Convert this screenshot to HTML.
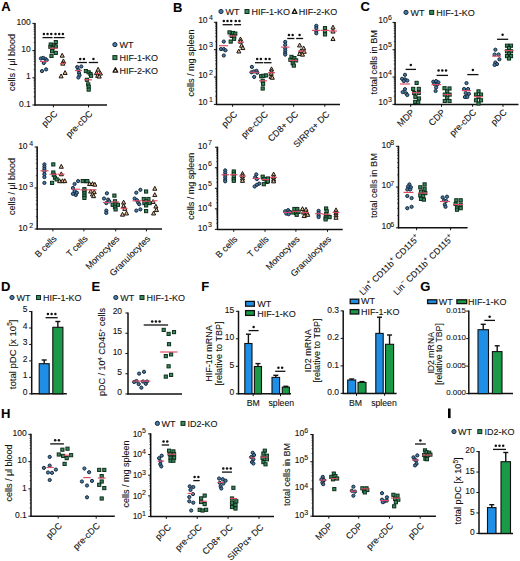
<!DOCTYPE html>
<html><head><meta charset="utf-8"><style>
html,body{margin:0;padding:0;background:#fff;}
body{width:520px;height:561px;overflow:hidden;}
svg{display:block;}
text{font-family:"Liberation Sans", sans-serif; stroke:#1a1a1a; stroke-width:0.1px; paint-order:stroke;}
</style></head><body>
<svg width="520" height="561" viewBox="0 0 520 561" font-family='"Liberation Sans", sans-serif'><text x="1.3" y="11.3" font-size="13" text-anchor="start" font-weight="bold" fill="#000">A</text>
<line x1="35" y1="22.9" x2="35" y2="105.6" stroke="#111111" stroke-width="1.5"/>
<line x1="34.4" y1="105" x2="107" y2="105" stroke="#111111" stroke-width="1.5"/>
<line x1="32.4" y1="105" x2="35" y2="105" stroke="#111111" stroke-width="1"/>
<line x1="33.6" y1="96.81" x2="35" y2="96.81" stroke="#111111" stroke-width="0.6"/>
<line x1="33.6" y1="92.02" x2="35" y2="92.02" stroke="#111111" stroke-width="0.6"/>
<line x1="33.6" y1="88.62" x2="35" y2="88.62" stroke="#111111" stroke-width="0.6"/>
<line x1="33.6" y1="85.99" x2="35" y2="85.99" stroke="#111111" stroke-width="0.6"/>
<line x1="33.6" y1="83.83" x2="35" y2="83.83" stroke="#111111" stroke-width="0.6"/>
<line x1="33.6" y1="82.01" x2="35" y2="82.01" stroke="#111111" stroke-width="0.6"/>
<line x1="33.6" y1="80.44" x2="35" y2="80.44" stroke="#111111" stroke-width="0.6"/>
<line x1="33.6" y1="79.04" x2="35" y2="79.04" stroke="#111111" stroke-width="0.6"/>
<line x1="32.4" y1="77.8" x2="35" y2="77.8" stroke="#111111" stroke-width="1"/>
<line x1="33.6" y1="69.61" x2="35" y2="69.61" stroke="#111111" stroke-width="0.6"/>
<line x1="33.6" y1="64.82" x2="35" y2="64.82" stroke="#111111" stroke-width="0.6"/>
<line x1="33.6" y1="61.42" x2="35" y2="61.42" stroke="#111111" stroke-width="0.6"/>
<line x1="33.6" y1="58.79" x2="35" y2="58.79" stroke="#111111" stroke-width="0.6"/>
<line x1="33.6" y1="56.63" x2="35" y2="56.63" stroke="#111111" stroke-width="0.6"/>
<line x1="33.6" y1="54.81" x2="35" y2="54.81" stroke="#111111" stroke-width="0.6"/>
<line x1="33.6" y1="53.24" x2="35" y2="53.24" stroke="#111111" stroke-width="0.6"/>
<line x1="33.6" y1="51.84" x2="35" y2="51.84" stroke="#111111" stroke-width="0.6"/>
<line x1="32.4" y1="50.6" x2="35" y2="50.6" stroke="#111111" stroke-width="1"/>
<line x1="33.6" y1="42.41" x2="35" y2="42.41" stroke="#111111" stroke-width="0.6"/>
<line x1="33.6" y1="37.62" x2="35" y2="37.62" stroke="#111111" stroke-width="0.6"/>
<line x1="33.6" y1="34.22" x2="35" y2="34.22" stroke="#111111" stroke-width="0.6"/>
<line x1="33.6" y1="31.59" x2="35" y2="31.59" stroke="#111111" stroke-width="0.6"/>
<line x1="33.6" y1="29.43" x2="35" y2="29.43" stroke="#111111" stroke-width="0.6"/>
<line x1="33.6" y1="27.61" x2="35" y2="27.61" stroke="#111111" stroke-width="0.6"/>
<line x1="33.6" y1="26.04" x2="35" y2="26.04" stroke="#111111" stroke-width="0.6"/>
<line x1="33.6" y1="24.64" x2="35" y2="24.64" stroke="#111111" stroke-width="0.6"/>
<line x1="32.4" y1="23.4" x2="35" y2="23.4" stroke="#111111" stroke-width="1"/>
<text x="30.8" y="106.6" font-size="8.5" text-anchor="end" font-weight="normal" fill="#111111">0.1</text>
<text x="30.8" y="79.4" font-size="8.5" text-anchor="end" font-weight="normal" fill="#111111">1</text>
<text x="30.8" y="52.2" font-size="8.5" text-anchor="end" font-weight="normal" fill="#111111">10</text>
<text x="30.8" y="25" font-size="8.5" text-anchor="end" font-weight="normal" fill="#111111">100</text>
<line x1="53.4" y1="105" x2="53.4" y2="107.4" stroke="#111111" stroke-width="1"/>
<line x1="88.5" y1="105" x2="88.5" y2="107.4" stroke="#111111" stroke-width="1"/>
<text x="58" y="114.4" font-size="9" text-anchor="end" font-weight="normal" fill="#111111" transform="rotate(-45 58 114.4)">pDC</text>
<text x="93.1" y="114.4" font-size="9" text-anchor="end" font-weight="normal" fill="#111111" transform="rotate(-45 93.1 114.4)">pre-cDC</text>
<text x="14.5" y="62.5" font-size="9" text-anchor="middle" font-weight="normal" fill="#111111" transform="rotate(-90 14.5 62.5)">cells / μl blood</text>
<circle cx="114.9" cy="44.6" r="2.1" fill="#4479a8" stroke="#15293a" stroke-width="1.0"/>
<text x="119.5" y="48.2" font-size="9" text-anchor="start" font-weight="normal" fill="#111111">WT</text>
<rect x="112.9" y="55.6" width="4" height="4" fill="#368c5a" stroke="#0f2c1c" stroke-width="1.0"/>
<text x="119.5" y="61.2" font-size="9" text-anchor="start" font-weight="normal" fill="#111111">HIF-1-KO</text>
<polygon points="115.4,67.78 113.1,72.15 117.7,72.15" fill="#f0e4d0" stroke="#1a1410" stroke-width="1.3" stroke-linejoin="round"/>
<text x="119.5" y="74.2" font-size="9" text-anchor="start" font-weight="normal" fill="#111111">HIF-2-KO</text>
<line x1="37.2" y1="146.5" x2="37.2" y2="229.6" stroke="#111111" stroke-width="1.5"/>
<line x1="36.6" y1="229" x2="162" y2="229" stroke="#111111" stroke-width="1.5"/>
<line x1="34.6" y1="229" x2="37.2" y2="229" stroke="#111111" stroke-width="1"/>
<line x1="35.8" y1="216.66" x2="37.2" y2="216.66" stroke="#111111" stroke-width="0.6"/>
<line x1="35.8" y1="209.44" x2="37.2" y2="209.44" stroke="#111111" stroke-width="0.6"/>
<line x1="35.8" y1="204.32" x2="37.2" y2="204.32" stroke="#111111" stroke-width="0.6"/>
<line x1="35.8" y1="200.34" x2="37.2" y2="200.34" stroke="#111111" stroke-width="0.6"/>
<line x1="35.8" y1="197.1" x2="37.2" y2="197.1" stroke="#111111" stroke-width="0.6"/>
<line x1="35.8" y1="194.35" x2="37.2" y2="194.35" stroke="#111111" stroke-width="0.6"/>
<line x1="35.8" y1="191.97" x2="37.2" y2="191.97" stroke="#111111" stroke-width="0.6"/>
<line x1="35.8" y1="189.88" x2="37.2" y2="189.88" stroke="#111111" stroke-width="0.6"/>
<line x1="34.6" y1="188" x2="37.2" y2="188" stroke="#111111" stroke-width="1"/>
<line x1="35.8" y1="175.66" x2="37.2" y2="175.66" stroke="#111111" stroke-width="0.6"/>
<line x1="35.8" y1="168.44" x2="37.2" y2="168.44" stroke="#111111" stroke-width="0.6"/>
<line x1="35.8" y1="163.32" x2="37.2" y2="163.32" stroke="#111111" stroke-width="0.6"/>
<line x1="35.8" y1="159.34" x2="37.2" y2="159.34" stroke="#111111" stroke-width="0.6"/>
<line x1="35.8" y1="156.1" x2="37.2" y2="156.1" stroke="#111111" stroke-width="0.6"/>
<line x1="35.8" y1="153.35" x2="37.2" y2="153.35" stroke="#111111" stroke-width="0.6"/>
<line x1="35.8" y1="150.97" x2="37.2" y2="150.97" stroke="#111111" stroke-width="0.6"/>
<line x1="35.8" y1="148.88" x2="37.2" y2="148.88" stroke="#111111" stroke-width="0.6"/>
<line x1="34.6" y1="147" x2="37.2" y2="147" stroke="#111111" stroke-width="1"/>
<text x="27.6" y="231" font-size="8.5" text-anchor="end" font-weight="normal" fill="#111111">10</text>
<text x="33.1" y="227.8" font-size="7" text-anchor="end" font-weight="normal" fill="#111111">2</text>
<text x="27.6" y="190" font-size="8.5" text-anchor="end" font-weight="normal" fill="#111111">10</text>
<text x="33.1" y="186.8" font-size="7" text-anchor="end" font-weight="normal" fill="#111111">3</text>
<text x="27.6" y="149" font-size="8.5" text-anchor="end" font-weight="normal" fill="#111111">10</text>
<text x="33.1" y="145.8" font-size="7" text-anchor="end" font-weight="normal" fill="#111111">4</text>
<line x1="52.9" y1="229" x2="52.9" y2="231.4" stroke="#111111" stroke-width="1"/>
<line x1="83.9" y1="229" x2="83.9" y2="231.4" stroke="#111111" stroke-width="1"/>
<line x1="115.7" y1="229" x2="115.7" y2="231.4" stroke="#111111" stroke-width="1"/>
<line x1="146.4" y1="229" x2="146.4" y2="231.4" stroke="#111111" stroke-width="1"/>
<text x="57.2" y="239.3" font-size="9" text-anchor="end" font-weight="normal" fill="#111111" transform="rotate(-45 57.2 239.3)">B cells</text>
<text x="88.2" y="239.3" font-size="9" text-anchor="end" font-weight="normal" fill="#111111" transform="rotate(-45 88.2 239.3)">T cells</text>
<text x="120" y="239.3" font-size="9" text-anchor="end" font-weight="normal" fill="#111111" transform="rotate(-45 120 239.3)">Monocytes</text>
<text x="150.7" y="239.3" font-size="9" text-anchor="end" font-weight="normal" fill="#111111" transform="rotate(-45 150.7 239.3)">Granulocytes</text>
<text x="15" y="186.5" font-size="9" text-anchor="middle" font-weight="normal" fill="#111111" transform="rotate(-90 15 186.5)">cells / μl blood</text>
<text x="173" y="11.5" font-size="13" text-anchor="start" font-weight="bold" fill="#000">B</text>
<line x1="216.5" y1="21.79" x2="216.5" y2="105" stroke="#111111" stroke-width="1.5"/>
<line x1="215.9" y1="104.4" x2="340" y2="104.4" stroke="#111111" stroke-width="1.5"/>
<line x1="213.9" y1="104.4" x2="216.5" y2="104.4" stroke="#111111" stroke-width="1"/>
<line x1="215.1" y1="96.16" x2="216.5" y2="96.16" stroke="#111111" stroke-width="0.6"/>
<line x1="215.1" y1="91.34" x2="216.5" y2="91.34" stroke="#111111" stroke-width="0.6"/>
<line x1="215.1" y1="87.92" x2="216.5" y2="87.92" stroke="#111111" stroke-width="0.6"/>
<line x1="215.1" y1="85.27" x2="216.5" y2="85.27" stroke="#111111" stroke-width="0.6"/>
<line x1="215.1" y1="83.1" x2="216.5" y2="83.1" stroke="#111111" stroke-width="0.6"/>
<line x1="215.1" y1="81.27" x2="216.5" y2="81.27" stroke="#111111" stroke-width="0.6"/>
<line x1="215.1" y1="79.68" x2="216.5" y2="79.68" stroke="#111111" stroke-width="0.6"/>
<line x1="215.1" y1="78.28" x2="216.5" y2="78.28" stroke="#111111" stroke-width="0.6"/>
<line x1="213.9" y1="77.03" x2="216.5" y2="77.03" stroke="#111111" stroke-width="1"/>
<line x1="215.1" y1="68.79" x2="216.5" y2="68.79" stroke="#111111" stroke-width="0.6"/>
<line x1="215.1" y1="63.97" x2="216.5" y2="63.97" stroke="#111111" stroke-width="0.6"/>
<line x1="215.1" y1="60.55" x2="216.5" y2="60.55" stroke="#111111" stroke-width="0.6"/>
<line x1="215.1" y1="57.9" x2="216.5" y2="57.9" stroke="#111111" stroke-width="0.6"/>
<line x1="215.1" y1="55.73" x2="216.5" y2="55.73" stroke="#111111" stroke-width="0.6"/>
<line x1="215.1" y1="53.9" x2="216.5" y2="53.9" stroke="#111111" stroke-width="0.6"/>
<line x1="215.1" y1="52.31" x2="216.5" y2="52.31" stroke="#111111" stroke-width="0.6"/>
<line x1="215.1" y1="50.91" x2="216.5" y2="50.91" stroke="#111111" stroke-width="0.6"/>
<line x1="213.9" y1="49.66" x2="216.5" y2="49.66" stroke="#111111" stroke-width="1"/>
<line x1="215.1" y1="41.42" x2="216.5" y2="41.42" stroke="#111111" stroke-width="0.6"/>
<line x1="215.1" y1="36.6" x2="216.5" y2="36.6" stroke="#111111" stroke-width="0.6"/>
<line x1="215.1" y1="33.18" x2="216.5" y2="33.18" stroke="#111111" stroke-width="0.6"/>
<line x1="215.1" y1="30.53" x2="216.5" y2="30.53" stroke="#111111" stroke-width="0.6"/>
<line x1="215.1" y1="28.36" x2="216.5" y2="28.36" stroke="#111111" stroke-width="0.6"/>
<line x1="215.1" y1="26.53" x2="216.5" y2="26.53" stroke="#111111" stroke-width="0.6"/>
<line x1="215.1" y1="24.94" x2="216.5" y2="24.94" stroke="#111111" stroke-width="0.6"/>
<line x1="215.1" y1="23.54" x2="216.5" y2="23.54" stroke="#111111" stroke-width="0.6"/>
<line x1="213.9" y1="22.29" x2="216.5" y2="22.29" stroke="#111111" stroke-width="1"/>
<text x="207.6" y="104.9" font-size="8.5" text-anchor="end" font-weight="normal" fill="#111111">10</text>
<text x="212.9" y="102.1" font-size="7" text-anchor="end" font-weight="normal" fill="#111111">1</text>
<text x="207.6" y="77.53" font-size="8.5" text-anchor="end" font-weight="normal" fill="#111111">10</text>
<text x="212.9" y="74.73" font-size="7" text-anchor="end" font-weight="normal" fill="#111111">2</text>
<text x="207.6" y="50.16" font-size="8.5" text-anchor="end" font-weight="normal" fill="#111111">10</text>
<text x="212.9" y="47.36" font-size="7" text-anchor="end" font-weight="normal" fill="#111111">3</text>
<text x="207.6" y="22.79" font-size="8.5" text-anchor="end" font-weight="normal" fill="#111111">10</text>
<text x="212.9" y="19.99" font-size="7" text-anchor="end" font-weight="normal" fill="#111111">4</text>
<line x1="232.6" y1="104.4" x2="232.6" y2="106.8" stroke="#111111" stroke-width="1"/>
<line x1="263.2" y1="104.4" x2="263.2" y2="106.8" stroke="#111111" stroke-width="1"/>
<line x1="293.6" y1="104.4" x2="293.6" y2="106.8" stroke="#111111" stroke-width="1"/>
<line x1="324.8" y1="104.4" x2="324.8" y2="106.8" stroke="#111111" stroke-width="1"/>
<text x="237.9" y="114.9" font-size="9" text-anchor="end" font-weight="normal" fill="#111111" transform="rotate(-45 237.9 114.9)">pDC</text>
<text x="268.5" y="114.9" font-size="9" text-anchor="end" font-weight="normal" fill="#111111" transform="rotate(-45 268.5 114.9)">pre-cDC</text>
<text x="298.9" y="114.9" font-size="9" text-anchor="end" font-weight="normal" fill="#111111" transform="rotate(-45 298.9 114.9)">CD8+ DC</text>
<text x="330.1" y="114.9" font-size="9" text-anchor="end" font-weight="normal" fill="#111111" transform="rotate(-45 330.1 114.9)">SIRPα+ DC</text>
<text x="194" y="63" font-size="9" text-anchor="middle" font-weight="normal" fill="#111111" transform="rotate(-90 194 63)">cells / mg spleen</text>
<circle cx="221" cy="11.5" r="2.1" fill="#4479a8" stroke="#15293a" stroke-width="1.0"/>
<text x="225.5" y="15" font-size="9" text-anchor="start" font-weight="normal" fill="#111111">WT</text>
<rect x="245" y="9.5" width="4" height="4" fill="#368c5a" stroke="#0f2c1c" stroke-width="1.0"/>
<text x="251.5" y="15" font-size="9" text-anchor="start" font-weight="normal" fill="#111111">HIF-1-KO</text>
<polygon points="294.6,8.98 292.3,13.35 296.9,13.35" fill="#f0e4d0" stroke="#1a1410" stroke-width="1.3" stroke-linejoin="round"/>
<text x="298.8" y="15" font-size="9" text-anchor="start" font-weight="normal" fill="#111111">HIF-2-KO</text>
<line x1="217.5" y1="146.7" x2="217.5" y2="230" stroke="#111111" stroke-width="1.5"/>
<line x1="216.9" y1="229.4" x2="342.7" y2="229.4" stroke="#111111" stroke-width="1.5"/>
<line x1="214.9" y1="229.4" x2="217.5" y2="229.4" stroke="#111111" stroke-width="1"/>
<line x1="216.1" y1="223.21" x2="217.5" y2="223.21" stroke="#111111" stroke-width="0.6"/>
<line x1="216.1" y1="219.6" x2="217.5" y2="219.6" stroke="#111111" stroke-width="0.6"/>
<line x1="216.1" y1="217.03" x2="217.5" y2="217.03" stroke="#111111" stroke-width="0.6"/>
<line x1="216.1" y1="215.04" x2="217.5" y2="215.04" stroke="#111111" stroke-width="0.6"/>
<line x1="216.1" y1="213.41" x2="217.5" y2="213.41" stroke="#111111" stroke-width="0.6"/>
<line x1="216.1" y1="212.03" x2="217.5" y2="212.03" stroke="#111111" stroke-width="0.6"/>
<line x1="216.1" y1="210.84" x2="217.5" y2="210.84" stroke="#111111" stroke-width="0.6"/>
<line x1="216.1" y1="209.79" x2="217.5" y2="209.79" stroke="#111111" stroke-width="0.6"/>
<line x1="214.9" y1="208.85" x2="217.5" y2="208.85" stroke="#111111" stroke-width="1"/>
<line x1="216.1" y1="202.66" x2="217.5" y2="202.66" stroke="#111111" stroke-width="0.6"/>
<line x1="216.1" y1="199.05" x2="217.5" y2="199.05" stroke="#111111" stroke-width="0.6"/>
<line x1="216.1" y1="196.48" x2="217.5" y2="196.48" stroke="#111111" stroke-width="0.6"/>
<line x1="216.1" y1="194.49" x2="217.5" y2="194.49" stroke="#111111" stroke-width="0.6"/>
<line x1="216.1" y1="192.86" x2="217.5" y2="192.86" stroke="#111111" stroke-width="0.6"/>
<line x1="216.1" y1="191.48" x2="217.5" y2="191.48" stroke="#111111" stroke-width="0.6"/>
<line x1="216.1" y1="190.29" x2="217.5" y2="190.29" stroke="#111111" stroke-width="0.6"/>
<line x1="216.1" y1="189.24" x2="217.5" y2="189.24" stroke="#111111" stroke-width="0.6"/>
<line x1="214.9" y1="188.3" x2="217.5" y2="188.3" stroke="#111111" stroke-width="1"/>
<line x1="216.1" y1="182.11" x2="217.5" y2="182.11" stroke="#111111" stroke-width="0.6"/>
<line x1="216.1" y1="178.5" x2="217.5" y2="178.5" stroke="#111111" stroke-width="0.6"/>
<line x1="216.1" y1="175.93" x2="217.5" y2="175.93" stroke="#111111" stroke-width="0.6"/>
<line x1="216.1" y1="173.94" x2="217.5" y2="173.94" stroke="#111111" stroke-width="0.6"/>
<line x1="216.1" y1="172.31" x2="217.5" y2="172.31" stroke="#111111" stroke-width="0.6"/>
<line x1="216.1" y1="170.93" x2="217.5" y2="170.93" stroke="#111111" stroke-width="0.6"/>
<line x1="216.1" y1="169.74" x2="217.5" y2="169.74" stroke="#111111" stroke-width="0.6"/>
<line x1="216.1" y1="168.69" x2="217.5" y2="168.69" stroke="#111111" stroke-width="0.6"/>
<line x1="214.9" y1="167.75" x2="217.5" y2="167.75" stroke="#111111" stroke-width="1"/>
<line x1="216.1" y1="161.56" x2="217.5" y2="161.56" stroke="#111111" stroke-width="0.6"/>
<line x1="216.1" y1="157.95" x2="217.5" y2="157.95" stroke="#111111" stroke-width="0.6"/>
<line x1="216.1" y1="155.38" x2="217.5" y2="155.38" stroke="#111111" stroke-width="0.6"/>
<line x1="216.1" y1="153.39" x2="217.5" y2="153.39" stroke="#111111" stroke-width="0.6"/>
<line x1="216.1" y1="151.76" x2="217.5" y2="151.76" stroke="#111111" stroke-width="0.6"/>
<line x1="216.1" y1="150.38" x2="217.5" y2="150.38" stroke="#111111" stroke-width="0.6"/>
<line x1="216.1" y1="149.19" x2="217.5" y2="149.19" stroke="#111111" stroke-width="0.6"/>
<line x1="216.1" y1="148.14" x2="217.5" y2="148.14" stroke="#111111" stroke-width="0.6"/>
<line x1="214.9" y1="147.2" x2="217.5" y2="147.2" stroke="#111111" stroke-width="1"/>
<text x="207.2" y="231.4" font-size="8.5" text-anchor="end" font-weight="normal" fill="#111111">10</text>
<text x="212" y="227.4" font-size="7" text-anchor="end" font-weight="normal" fill="#111111">3</text>
<text x="207.2" y="210.85" font-size="8.5" text-anchor="end" font-weight="normal" fill="#111111">10</text>
<text x="212" y="206.85" font-size="7" text-anchor="end" font-weight="normal" fill="#111111">4</text>
<text x="207.2" y="190.3" font-size="8.5" text-anchor="end" font-weight="normal" fill="#111111">10</text>
<text x="212" y="186.3" font-size="7" text-anchor="end" font-weight="normal" fill="#111111">5</text>
<text x="207.2" y="169.75" font-size="8.5" text-anchor="end" font-weight="normal" fill="#111111">10</text>
<text x="212" y="165.75" font-size="7" text-anchor="end" font-weight="normal" fill="#111111">6</text>
<text x="207.2" y="149.2" font-size="8.5" text-anchor="end" font-weight="normal" fill="#111111">10</text>
<text x="212" y="145.2" font-size="7" text-anchor="end" font-weight="normal" fill="#111111">7</text>
<line x1="233.75" y1="229.4" x2="233.75" y2="231.8" stroke="#111111" stroke-width="1"/>
<line x1="265" y1="229.4" x2="265" y2="231.8" stroke="#111111" stroke-width="1"/>
<line x1="295.9" y1="229.4" x2="295.9" y2="231.8" stroke="#111111" stroke-width="1"/>
<line x1="327.5" y1="229.4" x2="327.5" y2="231.8" stroke="#111111" stroke-width="1"/>
<text x="238.05" y="239.7" font-size="9" text-anchor="end" font-weight="normal" fill="#111111" transform="rotate(-45 238.05 239.7)">B cells</text>
<text x="269.3" y="239.7" font-size="9" text-anchor="end" font-weight="normal" fill="#111111" transform="rotate(-45 269.3 239.7)">T cells</text>
<text x="300.2" y="239.7" font-size="9" text-anchor="end" font-weight="normal" fill="#111111" transform="rotate(-45 300.2 239.7)">Monocytes</text>
<text x="331.8" y="239.7" font-size="9" text-anchor="end" font-weight="normal" fill="#111111" transform="rotate(-45 331.8 239.7)">Granulocytes</text>
<text x="194" y="186.2" font-size="9" text-anchor="middle" font-weight="normal" fill="#111111" transform="rotate(-90 194 186.2)">cells / mg spleen</text>
<text x="360.5" y="11.3" font-size="13" text-anchor="start" font-weight="bold" fill="#000">C</text>
<line x1="395.1" y1="21.91" x2="395.1" y2="105" stroke="#111111" stroke-width="1.5"/>
<line x1="394.5" y1="104.4" x2="518.5" y2="104.4" stroke="#111111" stroke-width="1.5"/>
<line x1="392.5" y1="104.4" x2="395.1" y2="104.4" stroke="#111111" stroke-width="1"/>
<line x1="393.7" y1="96.17" x2="395.1" y2="96.17" stroke="#111111" stroke-width="0.6"/>
<line x1="393.7" y1="91.36" x2="395.1" y2="91.36" stroke="#111111" stroke-width="0.6"/>
<line x1="393.7" y1="87.95" x2="395.1" y2="87.95" stroke="#111111" stroke-width="0.6"/>
<line x1="393.7" y1="85.3" x2="395.1" y2="85.3" stroke="#111111" stroke-width="0.6"/>
<line x1="393.7" y1="83.13" x2="395.1" y2="83.13" stroke="#111111" stroke-width="0.6"/>
<line x1="393.7" y1="81.3" x2="395.1" y2="81.3" stroke="#111111" stroke-width="0.6"/>
<line x1="393.7" y1="79.72" x2="395.1" y2="79.72" stroke="#111111" stroke-width="0.6"/>
<line x1="393.7" y1="78.32" x2="395.1" y2="78.32" stroke="#111111" stroke-width="0.6"/>
<line x1="392.5" y1="77.07" x2="395.1" y2="77.07" stroke="#111111" stroke-width="1"/>
<line x1="393.7" y1="68.84" x2="395.1" y2="68.84" stroke="#111111" stroke-width="0.6"/>
<line x1="393.7" y1="64.03" x2="395.1" y2="64.03" stroke="#111111" stroke-width="0.6"/>
<line x1="393.7" y1="60.62" x2="395.1" y2="60.62" stroke="#111111" stroke-width="0.6"/>
<line x1="393.7" y1="57.97" x2="395.1" y2="57.97" stroke="#111111" stroke-width="0.6"/>
<line x1="393.7" y1="55.8" x2="395.1" y2="55.8" stroke="#111111" stroke-width="0.6"/>
<line x1="393.7" y1="53.97" x2="395.1" y2="53.97" stroke="#111111" stroke-width="0.6"/>
<line x1="393.7" y1="52.39" x2="395.1" y2="52.39" stroke="#111111" stroke-width="0.6"/>
<line x1="393.7" y1="50.99" x2="395.1" y2="50.99" stroke="#111111" stroke-width="0.6"/>
<line x1="392.5" y1="49.74" x2="395.1" y2="49.74" stroke="#111111" stroke-width="1"/>
<line x1="393.7" y1="41.51" x2="395.1" y2="41.51" stroke="#111111" stroke-width="0.6"/>
<line x1="393.7" y1="36.7" x2="395.1" y2="36.7" stroke="#111111" stroke-width="0.6"/>
<line x1="393.7" y1="33.29" x2="395.1" y2="33.29" stroke="#111111" stroke-width="0.6"/>
<line x1="393.7" y1="30.64" x2="395.1" y2="30.64" stroke="#111111" stroke-width="0.6"/>
<line x1="393.7" y1="28.47" x2="395.1" y2="28.47" stroke="#111111" stroke-width="0.6"/>
<line x1="393.7" y1="26.64" x2="395.1" y2="26.64" stroke="#111111" stroke-width="0.6"/>
<line x1="393.7" y1="25.06" x2="395.1" y2="25.06" stroke="#111111" stroke-width="0.6"/>
<line x1="393.7" y1="23.66" x2="395.1" y2="23.66" stroke="#111111" stroke-width="0.6"/>
<line x1="392.5" y1="22.41" x2="395.1" y2="22.41" stroke="#111111" stroke-width="1"/>
<text x="387.7" y="105" font-size="8.5" text-anchor="end" font-weight="normal" fill="#111111">10</text>
<text x="391.9" y="102.05" font-size="7" text-anchor="end" font-weight="normal" fill="#111111">3</text>
<text x="387.7" y="77.67" font-size="8.5" text-anchor="end" font-weight="normal" fill="#111111">10</text>
<text x="391.9" y="74.72" font-size="7" text-anchor="end" font-weight="normal" fill="#111111">4</text>
<text x="387.7" y="50.34" font-size="8.5" text-anchor="end" font-weight="normal" fill="#111111">10</text>
<text x="391.9" y="47.39" font-size="7" text-anchor="end" font-weight="normal" fill="#111111">5</text>
<text x="387.7" y="23.01" font-size="8.5" text-anchor="end" font-weight="normal" fill="#111111">10</text>
<text x="391.9" y="20.06" font-size="7" text-anchor="end" font-weight="normal" fill="#111111">6</text>
<line x1="410.7" y1="104.4" x2="410.7" y2="106.8" stroke="#111111" stroke-width="1"/>
<line x1="441.5" y1="104.4" x2="441.5" y2="106.8" stroke="#111111" stroke-width="1"/>
<line x1="472.6" y1="104.4" x2="472.6" y2="106.8" stroke="#111111" stroke-width="1"/>
<line x1="503" y1="104.4" x2="503" y2="106.8" stroke="#111111" stroke-width="1"/>
<text x="415" y="113" font-size="9" text-anchor="end" font-weight="normal" fill="#111111" transform="rotate(-45 415 113)">MDP</text>
<text x="445.8" y="113" font-size="9" text-anchor="end" font-weight="normal" fill="#111111" transform="rotate(-45 445.8 113)">CDP</text>
<text x="476.9" y="113" font-size="9" text-anchor="end" font-weight="normal" fill="#111111" transform="rotate(-45 476.9 113)">pre-cDC</text>
<text x="507.3" y="113" font-size="9" text-anchor="end" font-weight="normal" fill="#111111" transform="rotate(-45 507.3 113)">pDC</text>
<text x="376.6" y="62.2" font-size="9.2" text-anchor="middle" font-weight="normal" fill="#111111" transform="rotate(-90 376.6 62.2)">total cells in BM</text>
<circle cx="406" cy="12.4" r="2.1" fill="#4479a8" stroke="#15293a" stroke-width="1.0"/>
<text x="410.5" y="16" font-size="9" text-anchor="start" font-weight="normal" fill="#111111">WT</text>
<rect x="429.7" y="10.4" width="4" height="4" fill="#368c5a" stroke="#0f2c1c" stroke-width="1.0"/>
<text x="436.2" y="16" font-size="9" text-anchor="start" font-weight="normal" fill="#111111">HIF-1-KO</text>
<line x1="398.5" y1="145.8" x2="398.5" y2="228.4" stroke="#111111" stroke-width="1.5"/>
<line x1="397.9" y1="227.8" x2="467.6" y2="227.8" stroke="#111111" stroke-width="1.5"/>
<line x1="395.9" y1="227.8" x2="398.5" y2="227.8" stroke="#111111" stroke-width="1"/>
<line x1="397.1" y1="215.53" x2="398.5" y2="215.53" stroke="#111111" stroke-width="0.6"/>
<line x1="397.1" y1="208.36" x2="398.5" y2="208.36" stroke="#111111" stroke-width="0.6"/>
<line x1="397.1" y1="203.27" x2="398.5" y2="203.27" stroke="#111111" stroke-width="0.6"/>
<line x1="397.1" y1="199.32" x2="398.5" y2="199.32" stroke="#111111" stroke-width="0.6"/>
<line x1="397.1" y1="196.09" x2="398.5" y2="196.09" stroke="#111111" stroke-width="0.6"/>
<line x1="397.1" y1="193.36" x2="398.5" y2="193.36" stroke="#111111" stroke-width="0.6"/>
<line x1="397.1" y1="191" x2="398.5" y2="191" stroke="#111111" stroke-width="0.6"/>
<line x1="397.1" y1="188.91" x2="398.5" y2="188.91" stroke="#111111" stroke-width="0.6"/>
<line x1="395.9" y1="187.05" x2="398.5" y2="187.05" stroke="#111111" stroke-width="1"/>
<line x1="397.1" y1="174.78" x2="398.5" y2="174.78" stroke="#111111" stroke-width="0.6"/>
<line x1="397.1" y1="167.61" x2="398.5" y2="167.61" stroke="#111111" stroke-width="0.6"/>
<line x1="397.1" y1="162.52" x2="398.5" y2="162.52" stroke="#111111" stroke-width="0.6"/>
<line x1="397.1" y1="158.57" x2="398.5" y2="158.57" stroke="#111111" stroke-width="0.6"/>
<line x1="397.1" y1="155.34" x2="398.5" y2="155.34" stroke="#111111" stroke-width="0.6"/>
<line x1="397.1" y1="152.61" x2="398.5" y2="152.61" stroke="#111111" stroke-width="0.6"/>
<line x1="397.1" y1="150.25" x2="398.5" y2="150.25" stroke="#111111" stroke-width="0.6"/>
<line x1="397.1" y1="148.16" x2="398.5" y2="148.16" stroke="#111111" stroke-width="0.6"/>
<line x1="395.9" y1="146.3" x2="398.5" y2="146.3" stroke="#111111" stroke-width="1"/>
<text x="391" y="229.2" font-size="8.5" text-anchor="end" font-weight="normal" fill="#111111">10</text>
<text x="394.2" y="226.7" font-size="7" text-anchor="end" font-weight="normal" fill="#111111">6</text>
<text x="391" y="188.45" font-size="8.5" text-anchor="end" font-weight="normal" fill="#111111">10</text>
<text x="394.2" y="185.95" font-size="7" text-anchor="end" font-weight="normal" fill="#111111">7</text>
<text x="391" y="147.7" font-size="8.5" text-anchor="end" font-weight="normal" fill="#111111">10</text>
<text x="394.2" y="145.2" font-size="7" text-anchor="end" font-weight="normal" fill="#111111">8</text>
<line x1="416.6" y1="227.8" x2="416.6" y2="230.2" stroke="#111111" stroke-width="1"/>
<line x1="450.6" y1="227.8" x2="450.6" y2="230.2" stroke="#111111" stroke-width="1"/>
<text x="420" y="238.6" font-size="8.8" text-anchor="end" fill="#111111" transform="rotate(-45 420 238.6)">Lin<tspan dy="-4" font-size="6">+</tspan><tspan dy="4"> CD11b</tspan><tspan dy="-4" font-size="6">+</tspan><tspan dy="4"> CD115</tspan><tspan dy="-4" font-size="6">+</tspan></text>
<text x="454" y="238.6" font-size="8.8" text-anchor="end" fill="#111111" transform="rotate(-45 454 238.6)">Lin<tspan dy="-4" font-size="6">−</tspan><tspan dy="4"> CD11b</tspan><tspan dy="-4" font-size="6">+</tspan><tspan dy="4"> CD115</tspan><tspan dy="-4" font-size="6">+</tspan></text>
<text x="376.8" y="185.5" font-size="9.3" text-anchor="middle" font-weight="normal" fill="#111111" transform="rotate(-90 376.8 185.5)">total cells in BM</text>
<text x="0.95" y="291.3" font-size="13" text-anchor="start" font-weight="bold" fill="#000">D</text>
<circle cx="12" cy="297.5" r="2.1" fill="#4479a8" stroke="#15293a" stroke-width="1.0"/>
<text x="16.5" y="301" font-size="9" text-anchor="start" font-weight="normal" fill="#111111">WT</text>
<rect x="36.5" y="295.5" width="4" height="4" fill="#368c5a" stroke="#0f2c1c" stroke-width="1.0"/>
<text x="43" y="301" font-size="9" text-anchor="start" font-weight="normal" fill="#111111">HIF-1-KO</text>
<line x1="31.7" y1="311.05" x2="31.7" y2="394.4" stroke="#111111" stroke-width="1.5"/>
<line x1="31.1" y1="393.8" x2="66.8" y2="393.8" stroke="#111111" stroke-width="1.5"/>
<line x1="29.1" y1="393.8" x2="31.7" y2="393.8" stroke="#111111" stroke-width="1"/>
<line x1="29.1" y1="377.35" x2="31.7" y2="377.35" stroke="#111111" stroke-width="1"/>
<line x1="29.1" y1="360.9" x2="31.7" y2="360.9" stroke="#111111" stroke-width="1"/>
<line x1="29.1" y1="344.45" x2="31.7" y2="344.45" stroke="#111111" stroke-width="1"/>
<line x1="29.1" y1="328" x2="31.7" y2="328" stroke="#111111" stroke-width="1"/>
<line x1="29.1" y1="311.55" x2="31.7" y2="311.55" stroke="#111111" stroke-width="1"/>
<text x="27.5" y="394.6" font-size="8.5" text-anchor="end" font-weight="normal" fill="#111111">0</text>
<text x="27.5" y="378.15" font-size="8.5" text-anchor="end" font-weight="normal" fill="#111111">1</text>
<text x="27.5" y="361.7" font-size="8.5" text-anchor="end" font-weight="normal" fill="#111111">2</text>
<text x="27.5" y="345.25" font-size="8.5" text-anchor="end" font-weight="normal" fill="#111111">3</text>
<text x="27.5" y="328.8" font-size="8.5" text-anchor="end" font-weight="normal" fill="#111111">4</text>
<text x="27.5" y="312.35" font-size="8.5" text-anchor="end" font-weight="normal" fill="#111111">5</text>
<text x="15.7" y="354.4" font-size="9.6" text-anchor="middle" font-weight="normal" fill="#111111" transform="rotate(-90 15.7 354.4)">total pDC [x 10<tspan dy="-3.6" font-size="6.5">5</tspan><tspan dy="3.6">]</tspan></text>
<text x="91.5" y="291.2" font-size="13" text-anchor="start" font-weight="bold" fill="#000">E</text>
<circle cx="115.8" cy="297.5" r="2.1" fill="#4479a8" stroke="#15293a" stroke-width="1.0"/>
<text x="120.3" y="301" font-size="9" text-anchor="start" font-weight="normal" fill="#111111">WT</text>
<rect x="140" y="295.5" width="4" height="4" fill="#368c5a" stroke="#0f2c1c" stroke-width="1.0"/>
<text x="146.5" y="301" font-size="9" text-anchor="start" font-weight="normal" fill="#111111">HIF-1-KO</text>
<line x1="128" y1="312.5" x2="128" y2="394.6" stroke="#111111" stroke-width="1.5"/>
<line x1="127.4" y1="394" x2="182" y2="394" stroke="#111111" stroke-width="1.5"/>
<line x1="125.4" y1="394" x2="128" y2="394" stroke="#111111" stroke-width="1"/>
<line x1="125.4" y1="373.75" x2="128" y2="373.75" stroke="#111111" stroke-width="1"/>
<line x1="125.4" y1="353.5" x2="128" y2="353.5" stroke="#111111" stroke-width="1"/>
<line x1="125.4" y1="333.25" x2="128" y2="333.25" stroke="#111111" stroke-width="1"/>
<line x1="125.4" y1="313" x2="128" y2="313" stroke="#111111" stroke-width="1"/>
<text x="122.1" y="395.2" font-size="8.5" text-anchor="end" font-weight="normal" fill="#111111">0</text>
<text x="122.1" y="374.95" font-size="8.5" text-anchor="end" font-weight="normal" fill="#111111">5</text>
<text x="122.1" y="354.7" font-size="8.5" text-anchor="end" font-weight="normal" fill="#111111">10</text>
<text x="122.1" y="334.45" font-size="8.5" text-anchor="end" font-weight="normal" fill="#111111">15</text>
<text x="122.1" y="314.2" font-size="8.5" text-anchor="end" font-weight="normal" fill="#111111">20</text>
<text x="105" y="352" font-size="9" text-anchor="middle" font-weight="normal" fill="#111111" transform="rotate(-90 105 352)">pDC / 10<tspan dy="-3" font-size="5.5">4</tspan><tspan dy="3"> CD45</tspan><tspan dy="-3" font-size="5.5">+</tspan><tspan dy="3"> cells</tspan></text>
<text x="201.3" y="291.3" font-size="13" text-anchor="start" font-weight="bold" fill="#000">F</text>
<line x1="238.5" y1="310.8" x2="238.5" y2="394.4" stroke="#111111" stroke-width="1.5"/>
<line x1="237.9" y1="393.8" x2="291" y2="393.8" stroke="#111111" stroke-width="1.5"/>
<line x1="235.9" y1="393.8" x2="238.5" y2="393.8" stroke="#111111" stroke-width="1"/>
<line x1="235.9" y1="366.3" x2="238.5" y2="366.3" stroke="#111111" stroke-width="1"/>
<line x1="235.9" y1="338.8" x2="238.5" y2="338.8" stroke="#111111" stroke-width="1"/>
<line x1="235.9" y1="311.3" x2="238.5" y2="311.3" stroke="#111111" stroke-width="1"/>
<text x="234.3" y="395.4" font-size="8.5" text-anchor="end" font-weight="normal" fill="#111111">0</text>
<text x="234.3" y="367.9" font-size="8.5" text-anchor="end" font-weight="normal" fill="#111111">5</text>
<text x="234.3" y="340.4" font-size="8.5" text-anchor="end" font-weight="normal" fill="#111111">10</text>
<text x="234.3" y="312.9" font-size="8.5" text-anchor="end" font-weight="normal" fill="#111111">15</text>
<rect x="245.6" y="301.4" width="8.8" height="4.8" fill="#1e8ee6" stroke="#111111" stroke-width="1.3"/>
<text x="257.3" y="306.8" font-size="9" text-anchor="start" font-weight="normal" fill="#111111">WT</text>
<rect x="245.6" y="310.6" width="8.8" height="4.8" fill="#1a9a48" stroke="#111111" stroke-width="1.3"/>
<text x="257.3" y="316.6" font-size="9" text-anchor="start" font-weight="normal" fill="#111111">HIF-1-KO</text>
<text x="212.3" y="353.5" font-size="9" text-anchor="middle" font-weight="normal" fill="#111111" transform="rotate(-90 212.3 353.5)">HIF-1α mRNA</text>
<text x="221.5" y="353.5" font-size="9" text-anchor="middle" font-weight="normal" fill="#111111" transform="rotate(-90 221.5 353.5)">[relative to TBP]</text>
<line x1="253.2" y1="393.8" x2="253.2" y2="396.2" stroke="#111111" stroke-width="1"/>
<line x1="280.5" y1="393.8" x2="280.5" y2="396.2" stroke="#111111" stroke-width="1"/>
<text x="253.2" y="405.5" font-size="8.7" text-anchor="middle" font-weight="normal" fill="#111111">BM</text>
<text x="281.3" y="405.5" font-size="8.7" text-anchor="middle" font-weight="normal" fill="#111111">spleen</text>
<line x1="343.2" y1="310.4" x2="343.2" y2="394" stroke="#111111" stroke-width="1.5"/>
<line x1="342.6" y1="393.4" x2="396.6" y2="393.4" stroke="#111111" stroke-width="1.5"/>
<line x1="340.6" y1="393.4" x2="343.2" y2="393.4" stroke="#111111" stroke-width="1"/>
<line x1="340.6" y1="365.9" x2="343.2" y2="365.9" stroke="#111111" stroke-width="1"/>
<line x1="340.6" y1="338.4" x2="343.2" y2="338.4" stroke="#111111" stroke-width="1"/>
<line x1="340.6" y1="310.9" x2="343.2" y2="310.9" stroke="#111111" stroke-width="1"/>
<text x="339" y="395" font-size="8.5" text-anchor="end" font-weight="normal" fill="#111111">0.0</text>
<text x="339" y="367.5" font-size="8.5" text-anchor="end" font-weight="normal" fill="#111111">0.1</text>
<text x="339" y="340" font-size="8.5" text-anchor="end" font-weight="normal" fill="#111111">0.2</text>
<text x="339" y="312.5" font-size="8.5" text-anchor="end" font-weight="normal" fill="#111111">0.3</text>
<rect x="350.2" y="299.2" width="8.6" height="4.4" fill="#1e8ee6" stroke="#111111" stroke-width="1.3"/>
<text x="361" y="304.4" font-size="9" text-anchor="start" font-weight="normal" fill="#111111">WT</text>
<rect x="350.2" y="309.6" width="8.6" height="4.4" fill="#1a9a48" stroke="#111111" stroke-width="1.3"/>
<text x="361" y="314.8" font-size="9" text-anchor="start" font-weight="normal" fill="#111111">HIF-1-KO</text>
<text x="310.9" y="350.8" font-size="9" text-anchor="middle" font-weight="normal" fill="#111111" transform="rotate(-90 310.9 350.8)">ID2 mRNA</text>
<text x="320.3" y="350.5" font-size="9" text-anchor="middle" font-weight="normal" fill="#111111" transform="rotate(-90 320.3 350.5)">[relative to TBP]</text>
<line x1="356.5" y1="393.4" x2="356.5" y2="395.8" stroke="#111111" stroke-width="1"/>
<line x1="384.6" y1="393.4" x2="384.6" y2="395.8" stroke="#111111" stroke-width="1"/>
<text x="355.5" y="405.5" font-size="8.7" text-anchor="middle" font-weight="normal" fill="#111111">BM</text>
<text x="384" y="405.5" font-size="8.7" text-anchor="middle" font-weight="normal" fill="#111111">spleen</text>
<text x="420.2" y="290.9" font-size="13" text-anchor="start" font-weight="bold" fill="#000">G</text>
<rect x="427.6" y="299.8" width="9.2" height="3.8" fill="#1e8ee6" stroke="#111111" stroke-width="1.3"/>
<text x="438.8" y="304.6" font-size="9" text-anchor="start" font-weight="normal" fill="#111111">WT</text>
<rect x="456.9" y="299.8" width="9.8" height="3.8" fill="#1a9a48" stroke="#111111" stroke-width="1.3"/>
<text x="468" y="304.6" font-size="9" text-anchor="start" font-weight="normal" fill="#111111">HIF-1-KO</text>
<line x1="468.8" y1="310.6" x2="468.8" y2="394.2" stroke="#111111" stroke-width="1.5"/>
<line x1="468.2" y1="393.6" x2="513" y2="393.6" stroke="#111111" stroke-width="1.5"/>
<line x1="466.2" y1="393.6" x2="468.8" y2="393.6" stroke="#111111" stroke-width="1"/>
<line x1="466.2" y1="366.1" x2="468.8" y2="366.1" stroke="#111111" stroke-width="1"/>
<line x1="466.2" y1="338.6" x2="468.8" y2="338.6" stroke="#111111" stroke-width="1"/>
<line x1="466.2" y1="311.1" x2="468.8" y2="311.1" stroke="#111111" stroke-width="1"/>
<text x="466" y="395.2" font-size="7.9" text-anchor="end" font-weight="normal" fill="#111111">0.000</text>
<text x="466" y="367.7" font-size="7.9" text-anchor="end" font-weight="normal" fill="#111111">0.005</text>
<text x="466" y="340.2" font-size="7.9" text-anchor="end" font-weight="normal" fill="#111111">0.010</text>
<text x="466" y="312.7" font-size="7.9" text-anchor="end" font-weight="normal" fill="#111111">0.015</text>
<text x="434.2" y="352.8" font-size="8.7" text-anchor="middle" font-weight="normal" fill="#111111" transform="rotate(-90 434.2 352.8)">ID2 mRNA</text>
<text x="441.9" y="354" font-size="8.7" text-anchor="middle" font-weight="normal" fill="#111111" transform="rotate(-90 441.9 354)">[relative to TBP]</text>
<text x="0.95" y="418.3" font-size="13" text-anchor="start" font-weight="bold" fill="#000">H</text>
<line x1="31" y1="433.8" x2="31" y2="516.8" stroke="#111111" stroke-width="1.5"/>
<line x1="30.4" y1="516.2" x2="114.8" y2="516.2" stroke="#111111" stroke-width="1.5"/>
<line x1="28.4" y1="516.2" x2="31" y2="516.2" stroke="#111111" stroke-width="1"/>
<line x1="29.6" y1="507.98" x2="31" y2="507.98" stroke="#111111" stroke-width="0.6"/>
<line x1="29.6" y1="503.17" x2="31" y2="503.17" stroke="#111111" stroke-width="0.6"/>
<line x1="29.6" y1="499.76" x2="31" y2="499.76" stroke="#111111" stroke-width="0.6"/>
<line x1="29.6" y1="497.12" x2="31" y2="497.12" stroke="#111111" stroke-width="0.6"/>
<line x1="29.6" y1="494.96" x2="31" y2="494.96" stroke="#111111" stroke-width="0.6"/>
<line x1="29.6" y1="493.13" x2="31" y2="493.13" stroke="#111111" stroke-width="0.6"/>
<line x1="29.6" y1="491.55" x2="31" y2="491.55" stroke="#111111" stroke-width="0.6"/>
<line x1="29.6" y1="490.15" x2="31" y2="490.15" stroke="#111111" stroke-width="0.6"/>
<line x1="28.4" y1="488.9" x2="31" y2="488.9" stroke="#111111" stroke-width="1"/>
<line x1="29.6" y1="480.68" x2="31" y2="480.68" stroke="#111111" stroke-width="0.6"/>
<line x1="29.6" y1="475.87" x2="31" y2="475.87" stroke="#111111" stroke-width="0.6"/>
<line x1="29.6" y1="472.46" x2="31" y2="472.46" stroke="#111111" stroke-width="0.6"/>
<line x1="29.6" y1="469.82" x2="31" y2="469.82" stroke="#111111" stroke-width="0.6"/>
<line x1="29.6" y1="467.66" x2="31" y2="467.66" stroke="#111111" stroke-width="0.6"/>
<line x1="29.6" y1="465.83" x2="31" y2="465.83" stroke="#111111" stroke-width="0.6"/>
<line x1="29.6" y1="464.25" x2="31" y2="464.25" stroke="#111111" stroke-width="0.6"/>
<line x1="29.6" y1="462.85" x2="31" y2="462.85" stroke="#111111" stroke-width="0.6"/>
<line x1="28.4" y1="461.6" x2="31" y2="461.6" stroke="#111111" stroke-width="1"/>
<line x1="29.6" y1="453.38" x2="31" y2="453.38" stroke="#111111" stroke-width="0.6"/>
<line x1="29.6" y1="448.57" x2="31" y2="448.57" stroke="#111111" stroke-width="0.6"/>
<line x1="29.6" y1="445.16" x2="31" y2="445.16" stroke="#111111" stroke-width="0.6"/>
<line x1="29.6" y1="442.52" x2="31" y2="442.52" stroke="#111111" stroke-width="0.6"/>
<line x1="29.6" y1="440.36" x2="31" y2="440.36" stroke="#111111" stroke-width="0.6"/>
<line x1="29.6" y1="438.53" x2="31" y2="438.53" stroke="#111111" stroke-width="0.6"/>
<line x1="29.6" y1="436.95" x2="31" y2="436.95" stroke="#111111" stroke-width="0.6"/>
<line x1="29.6" y1="435.55" x2="31" y2="435.55" stroke="#111111" stroke-width="0.6"/>
<line x1="28.4" y1="434.3" x2="31" y2="434.3" stroke="#111111" stroke-width="1"/>
<text x="26.8" y="517.8" font-size="8.5" text-anchor="end" font-weight="normal" fill="#111111">0.1</text>
<text x="26.8" y="490.5" font-size="8.5" text-anchor="end" font-weight="normal" fill="#111111">1</text>
<text x="26.8" y="463.2" font-size="8.5" text-anchor="end" font-weight="normal" fill="#111111">10</text>
<text x="26.8" y="435.9" font-size="8.5" text-anchor="end" font-weight="normal" fill="#111111">100</text>
<line x1="58.2" y1="516.2" x2="58.2" y2="518.6" stroke="#111111" stroke-width="1"/>
<line x1="96.2" y1="516.2" x2="96.2" y2="518.6" stroke="#111111" stroke-width="1"/>
<text x="62.5" y="526.5" font-size="9" text-anchor="end" font-weight="normal" fill="#111111" transform="rotate(-45 62.5 526.5)">pDC</text>
<text x="100.5" y="526.5" font-size="9" text-anchor="end" font-weight="normal" fill="#111111" transform="rotate(-45 100.5 526.5)">pre-cDC</text>
<text x="12.2" y="473" font-size="9" text-anchor="middle" font-weight="normal" fill="#111111" transform="rotate(-90 12.2 473)">cells / μl blood</text>
<line x1="150.7" y1="433.32" x2="150.7" y2="517.1" stroke="#111111" stroke-width="1.5"/>
<line x1="150.1" y1="516.5" x2="274" y2="516.5" stroke="#111111" stroke-width="1.5"/>
<line x1="148.1" y1="516.5" x2="150.7" y2="516.5" stroke="#111111" stroke-width="1"/>
<line x1="149.3" y1="510.28" x2="150.7" y2="510.28" stroke="#111111" stroke-width="0.6"/>
<line x1="149.3" y1="506.64" x2="150.7" y2="506.64" stroke="#111111" stroke-width="0.6"/>
<line x1="149.3" y1="504.06" x2="150.7" y2="504.06" stroke="#111111" stroke-width="0.6"/>
<line x1="149.3" y1="502.05" x2="150.7" y2="502.05" stroke="#111111" stroke-width="0.6"/>
<line x1="149.3" y1="500.42" x2="150.7" y2="500.42" stroke="#111111" stroke-width="0.6"/>
<line x1="149.3" y1="499.03" x2="150.7" y2="499.03" stroke="#111111" stroke-width="0.6"/>
<line x1="149.3" y1="497.83" x2="150.7" y2="497.83" stroke="#111111" stroke-width="0.6"/>
<line x1="149.3" y1="496.78" x2="150.7" y2="496.78" stroke="#111111" stroke-width="0.6"/>
<line x1="148.1" y1="495.83" x2="150.7" y2="495.83" stroke="#111111" stroke-width="1"/>
<line x1="149.3" y1="489.61" x2="150.7" y2="489.61" stroke="#111111" stroke-width="0.6"/>
<line x1="149.3" y1="485.97" x2="150.7" y2="485.97" stroke="#111111" stroke-width="0.6"/>
<line x1="149.3" y1="483.39" x2="150.7" y2="483.39" stroke="#111111" stroke-width="0.6"/>
<line x1="149.3" y1="481.38" x2="150.7" y2="481.38" stroke="#111111" stroke-width="0.6"/>
<line x1="149.3" y1="479.75" x2="150.7" y2="479.75" stroke="#111111" stroke-width="0.6"/>
<line x1="149.3" y1="478.36" x2="150.7" y2="478.36" stroke="#111111" stroke-width="0.6"/>
<line x1="149.3" y1="477.16" x2="150.7" y2="477.16" stroke="#111111" stroke-width="0.6"/>
<line x1="149.3" y1="476.11" x2="150.7" y2="476.11" stroke="#111111" stroke-width="0.6"/>
<line x1="148.1" y1="475.16" x2="150.7" y2="475.16" stroke="#111111" stroke-width="1"/>
<line x1="149.3" y1="468.94" x2="150.7" y2="468.94" stroke="#111111" stroke-width="0.6"/>
<line x1="149.3" y1="465.3" x2="150.7" y2="465.3" stroke="#111111" stroke-width="0.6"/>
<line x1="149.3" y1="462.72" x2="150.7" y2="462.72" stroke="#111111" stroke-width="0.6"/>
<line x1="149.3" y1="460.71" x2="150.7" y2="460.71" stroke="#111111" stroke-width="0.6"/>
<line x1="149.3" y1="459.08" x2="150.7" y2="459.08" stroke="#111111" stroke-width="0.6"/>
<line x1="149.3" y1="457.69" x2="150.7" y2="457.69" stroke="#111111" stroke-width="0.6"/>
<line x1="149.3" y1="456.49" x2="150.7" y2="456.49" stroke="#111111" stroke-width="0.6"/>
<line x1="149.3" y1="455.44" x2="150.7" y2="455.44" stroke="#111111" stroke-width="0.6"/>
<line x1="148.1" y1="454.49" x2="150.7" y2="454.49" stroke="#111111" stroke-width="1"/>
<line x1="149.3" y1="448.27" x2="150.7" y2="448.27" stroke="#111111" stroke-width="0.6"/>
<line x1="149.3" y1="444.63" x2="150.7" y2="444.63" stroke="#111111" stroke-width="0.6"/>
<line x1="149.3" y1="442.05" x2="150.7" y2="442.05" stroke="#111111" stroke-width="0.6"/>
<line x1="149.3" y1="440.04" x2="150.7" y2="440.04" stroke="#111111" stroke-width="0.6"/>
<line x1="149.3" y1="438.41" x2="150.7" y2="438.41" stroke="#111111" stroke-width="0.6"/>
<line x1="149.3" y1="437.02" x2="150.7" y2="437.02" stroke="#111111" stroke-width="0.6"/>
<line x1="149.3" y1="435.82" x2="150.7" y2="435.82" stroke="#111111" stroke-width="0.6"/>
<line x1="149.3" y1="434.77" x2="150.7" y2="434.77" stroke="#111111" stroke-width="0.6"/>
<line x1="148.1" y1="433.82" x2="150.7" y2="433.82" stroke="#111111" stroke-width="1"/>
<text x="142.1" y="519.2" font-size="8.5" text-anchor="end" font-weight="normal" fill="#111111">10</text>
<text x="145.9" y="516.1" font-size="7" text-anchor="end" font-weight="normal" fill="#111111">1</text>
<text x="142.1" y="498.53" font-size="8.5" text-anchor="end" font-weight="normal" fill="#111111">10</text>
<text x="145.9" y="495.43" font-size="7" text-anchor="end" font-weight="normal" fill="#111111">2</text>
<text x="142.1" y="477.86" font-size="8.5" text-anchor="end" font-weight="normal" fill="#111111">10</text>
<text x="145.9" y="474.76" font-size="7" text-anchor="end" font-weight="normal" fill="#111111">3</text>
<text x="142.1" y="457.19" font-size="8.5" text-anchor="end" font-weight="normal" fill="#111111">10</text>
<text x="145.9" y="454.09" font-size="7" text-anchor="end" font-weight="normal" fill="#111111">4</text>
<text x="142.1" y="436.52" font-size="8.5" text-anchor="end" font-weight="normal" fill="#111111">10</text>
<text x="145.9" y="433.42" font-size="7" text-anchor="end" font-weight="normal" fill="#111111">5</text>
<line x1="166.3" y1="516.5" x2="166.3" y2="518.9" stroke="#111111" stroke-width="1"/>
<line x1="197.2" y1="516.5" x2="197.2" y2="518.9" stroke="#111111" stroke-width="1"/>
<line x1="228.1" y1="516.5" x2="228.1" y2="518.9" stroke="#111111" stroke-width="1"/>
<line x1="259" y1="516.5" x2="259" y2="518.9" stroke="#111111" stroke-width="1"/>
<text x="171.5" y="527.8" font-size="9" text-anchor="end" font-weight="normal" fill="#111111" transform="rotate(-45 171.5 527.8)">pDC</text>
<text x="202.4" y="527.8" font-size="9" text-anchor="end" font-weight="normal" fill="#111111" transform="rotate(-45 202.4 527.8)">pre-cDC</text>
<text x="233.3" y="527.8" font-size="9" text-anchor="end" font-weight="normal" fill="#111111" transform="rotate(-45 233.3 527.8)">CD8+ DC</text>
<text x="264.2" y="527.8" font-size="9" text-anchor="end" font-weight="normal" fill="#111111" transform="rotate(-45 264.2 527.8)">SIRPα+ DC</text>
<text x="128.8" y="474" font-size="9" text-anchor="middle" font-weight="normal" fill="#111111" transform="rotate(-90 128.8 474)">cells / mg spleen</text>
<circle cx="157.4" cy="423.4" r="2.1" fill="#4479a8" stroke="#15293a" stroke-width="1.0"/>
<text x="161.6" y="426.9" font-size="9" text-anchor="start" font-weight="normal" fill="#111111">WT</text>
<rect x="181" y="421.4" width="4" height="4" fill="#368c5a" stroke="#0f2c1c" stroke-width="1.0"/>
<text x="187.6" y="426.9" font-size="9" text-anchor="start" font-weight="normal" fill="#111111">ID2-KO</text>
<line x1="312.9" y1="434.01" x2="312.9" y2="516.8" stroke="#111111" stroke-width="1.5"/>
<line x1="312.3" y1="516.2" x2="435.9" y2="516.2" stroke="#111111" stroke-width="1.5"/>
<line x1="310.3" y1="516.2" x2="312.9" y2="516.2" stroke="#111111" stroke-width="1"/>
<line x1="311.5" y1="508" x2="312.9" y2="508" stroke="#111111" stroke-width="0.6"/>
<line x1="311.5" y1="503.21" x2="312.9" y2="503.21" stroke="#111111" stroke-width="0.6"/>
<line x1="311.5" y1="499.81" x2="312.9" y2="499.81" stroke="#111111" stroke-width="0.6"/>
<line x1="311.5" y1="497.17" x2="312.9" y2="497.17" stroke="#111111" stroke-width="0.6"/>
<line x1="311.5" y1="495.01" x2="312.9" y2="495.01" stroke="#111111" stroke-width="0.6"/>
<line x1="311.5" y1="493.19" x2="312.9" y2="493.19" stroke="#111111" stroke-width="0.6"/>
<line x1="311.5" y1="491.61" x2="312.9" y2="491.61" stroke="#111111" stroke-width="0.6"/>
<line x1="311.5" y1="490.22" x2="312.9" y2="490.22" stroke="#111111" stroke-width="0.6"/>
<line x1="310.3" y1="488.97" x2="312.9" y2="488.97" stroke="#111111" stroke-width="1"/>
<line x1="311.5" y1="480.77" x2="312.9" y2="480.77" stroke="#111111" stroke-width="0.6"/>
<line x1="311.5" y1="475.98" x2="312.9" y2="475.98" stroke="#111111" stroke-width="0.6"/>
<line x1="311.5" y1="472.58" x2="312.9" y2="472.58" stroke="#111111" stroke-width="0.6"/>
<line x1="311.5" y1="469.94" x2="312.9" y2="469.94" stroke="#111111" stroke-width="0.6"/>
<line x1="311.5" y1="467.78" x2="312.9" y2="467.78" stroke="#111111" stroke-width="0.6"/>
<line x1="311.5" y1="465.96" x2="312.9" y2="465.96" stroke="#111111" stroke-width="0.6"/>
<line x1="311.5" y1="464.38" x2="312.9" y2="464.38" stroke="#111111" stroke-width="0.6"/>
<line x1="311.5" y1="462.99" x2="312.9" y2="462.99" stroke="#111111" stroke-width="0.6"/>
<line x1="310.3" y1="461.74" x2="312.9" y2="461.74" stroke="#111111" stroke-width="1"/>
<line x1="311.5" y1="453.54" x2="312.9" y2="453.54" stroke="#111111" stroke-width="0.6"/>
<line x1="311.5" y1="448.75" x2="312.9" y2="448.75" stroke="#111111" stroke-width="0.6"/>
<line x1="311.5" y1="445.35" x2="312.9" y2="445.35" stroke="#111111" stroke-width="0.6"/>
<line x1="311.5" y1="442.71" x2="312.9" y2="442.71" stroke="#111111" stroke-width="0.6"/>
<line x1="311.5" y1="440.55" x2="312.9" y2="440.55" stroke="#111111" stroke-width="0.6"/>
<line x1="311.5" y1="438.73" x2="312.9" y2="438.73" stroke="#111111" stroke-width="0.6"/>
<line x1="311.5" y1="437.15" x2="312.9" y2="437.15" stroke="#111111" stroke-width="0.6"/>
<line x1="311.5" y1="435.76" x2="312.9" y2="435.76" stroke="#111111" stroke-width="0.6"/>
<line x1="310.3" y1="434.51" x2="312.9" y2="434.51" stroke="#111111" stroke-width="1"/>
<text x="304.3" y="517.7" font-size="8.5" text-anchor="end" font-weight="normal" fill="#111111">10</text>
<text x="308.2" y="514.9" font-size="7" text-anchor="end" font-weight="normal" fill="#111111">3</text>
<text x="304.3" y="490.47" font-size="8.5" text-anchor="end" font-weight="normal" fill="#111111">10</text>
<text x="308.2" y="487.67" font-size="7" text-anchor="end" font-weight="normal" fill="#111111">4</text>
<text x="304.3" y="463.24" font-size="8.5" text-anchor="end" font-weight="normal" fill="#111111">10</text>
<text x="308.2" y="460.44" font-size="7" text-anchor="end" font-weight="normal" fill="#111111">5</text>
<text x="304.3" y="436.01" font-size="8.5" text-anchor="end" font-weight="normal" fill="#111111">10</text>
<text x="308.2" y="433.21" font-size="7" text-anchor="end" font-weight="normal" fill="#111111">6</text>
<line x1="328.8" y1="516.2" x2="328.8" y2="518.6" stroke="#111111" stroke-width="1"/>
<line x1="358.7" y1="516.2" x2="358.7" y2="518.6" stroke="#111111" stroke-width="1"/>
<line x1="389.5" y1="516.2" x2="389.5" y2="518.6" stroke="#111111" stroke-width="1"/>
<line x1="420.2" y1="516.2" x2="420.2" y2="518.6" stroke="#111111" stroke-width="1"/>
<text x="333.1" y="526.5" font-size="9" text-anchor="end" font-weight="normal" fill="#111111" transform="rotate(-45 333.1 526.5)">MDP</text>
<text x="363" y="526.5" font-size="9" text-anchor="end" font-weight="normal" fill="#111111" transform="rotate(-45 363 526.5)">CDP</text>
<text x="393.8" y="526.5" font-size="9" text-anchor="end" font-weight="normal" fill="#111111" transform="rotate(-45 393.8 526.5)">pre-cDC</text>
<text x="424.5" y="526.5" font-size="9" text-anchor="end" font-weight="normal" fill="#111111" transform="rotate(-45 424.5 526.5)">pDC</text>
<text x="289.5" y="474.5" font-size="9" text-anchor="middle" font-weight="normal" fill="#111111" transform="rotate(-90 289.5 474.5)">total cells in BM</text>
<rect x="448" y="408.5" width="2.6" height="9.6" fill="#000"/>
<circle cx="454" cy="431.6" r="2.1" fill="#4479a8" stroke="#15293a" stroke-width="1.0"/>
<text x="458" y="435.1" font-size="9" text-anchor="start" font-weight="normal" fill="#111111">WT</text>
<rect x="477.8" y="429.6" width="4" height="4" fill="#368c5a" stroke="#0f2c1c" stroke-width="1.0"/>
<text x="484.4" y="435.1" font-size="9" text-anchor="start" font-weight="normal" fill="#111111">ID2-KO</text>
<line x1="479" y1="451.1" x2="479" y2="534" stroke="#111111" stroke-width="1.5"/>
<line x1="478.4" y1="533.4" x2="513" y2="533.4" stroke="#111111" stroke-width="1.5"/>
<line x1="476.4" y1="533.4" x2="479" y2="533.4" stroke="#111111" stroke-width="1"/>
<line x1="476.4" y1="512.95" x2="479" y2="512.95" stroke="#111111" stroke-width="1"/>
<line x1="476.4" y1="492.5" x2="479" y2="492.5" stroke="#111111" stroke-width="1"/>
<line x1="476.4" y1="472.05" x2="479" y2="472.05" stroke="#111111" stroke-width="1"/>
<line x1="476.4" y1="451.6" x2="479" y2="451.6" stroke="#111111" stroke-width="1"/>
<text x="474.8" y="535" font-size="8.5" text-anchor="end" font-weight="normal" fill="#111111">0</text>
<text x="474.8" y="514.55" font-size="8.5" text-anchor="end" font-weight="normal" fill="#111111">5</text>
<text x="474.8" y="494.1" font-size="8.5" text-anchor="end" font-weight="normal" fill="#111111">10</text>
<text x="474.8" y="473.65" font-size="8.5" text-anchor="end" font-weight="normal" fill="#111111">15</text>
<text x="474.8" y="453.2" font-size="8.5" text-anchor="end" font-weight="normal" fill="#111111">20</text>
<text x="461.5" y="490.9" font-size="9.2" text-anchor="middle" font-weight="normal" fill="#111111" transform="rotate(-90 461.5 490.9)">total pDC [x 10<tspan dy="-3.6" font-size="6.5">5</tspan><tspan dy="3.6">]</tspan></text>
<line x1="42.5" y1="37.6" x2="52.6" y2="37.6" stroke="#111" stroke-width="1.3"/>
<circle cx="43.85" cy="34" r="1.25" fill="#111"/>
<circle cx="47.55" cy="34" r="1.25" fill="#111"/>
<circle cx="51.25" cy="34" r="1.25" fill="#111"/>
<line x1="53.8" y1="37.6" x2="64.6" y2="37.6" stroke="#111" stroke-width="1.3"/>
<circle cx="55.5" cy="34" r="1.25" fill="#111"/>
<circle cx="59.2" cy="34" r="1.25" fill="#111"/>
<circle cx="62.9" cy="34" r="1.25" fill="#111"/>
<circle cx="40.9" cy="58.5" r="1.6" fill="#4479a8" stroke="#15293a" stroke-width="1.0"/>
<circle cx="43.2" cy="57.9" r="1.6" fill="#4479a8" stroke="#15293a" stroke-width="1.0"/>
<circle cx="45.5" cy="59" r="1.6" fill="#4479a8" stroke="#15293a" stroke-width="1.0"/>
<circle cx="46.7" cy="60.2" r="1.6" fill="#4479a8" stroke="#15293a" stroke-width="1.0"/>
<circle cx="43.8" cy="63" r="1.6" fill="#4479a8" stroke="#15293a" stroke-width="1.0"/>
<circle cx="42" cy="71.1" r="1.6" fill="#4479a8" stroke="#15293a" stroke-width="1.0"/>
<circle cx="46.1" cy="69.4" r="1.6" fill="#4479a8" stroke="#15293a" stroke-width="1.0"/>
<rect x="54.22" y="40.52" width="3.15" height="3.15" fill="#368c5a" stroke="#0f2c1c" stroke-width="1.0"/>
<rect x="49.22" y="42.92" width="3.15" height="3.15" fill="#368c5a" stroke="#0f2c1c" stroke-width="1.0"/>
<rect x="52.62" y="43.62" width="3.15" height="3.15" fill="#368c5a" stroke="#0f2c1c" stroke-width="1.0"/>
<rect x="48.82" y="45.22" width="3.15" height="3.15" fill="#368c5a" stroke="#0f2c1c" stroke-width="1.0"/>
<rect x="54.22" y="44.92" width="3.15" height="3.15" fill="#368c5a" stroke="#0f2c1c" stroke-width="1.0"/>
<rect x="50.92" y="46.62" width="3.15" height="3.15" fill="#368c5a" stroke="#0f2c1c" stroke-width="1.0"/>
<rect x="50.52" y="49.62" width="3.15" height="3.15" fill="#368c5a" stroke="#0f2c1c" stroke-width="1.0"/>
<rect x="54.22" y="51.32" width="3.15" height="3.15" fill="#368c5a" stroke="#0f2c1c" stroke-width="1.0"/>
<rect x="49.92" y="54.32" width="3.15" height="3.15" fill="#368c5a" stroke="#0f2c1c" stroke-width="1.0"/>
<polygon points="62.2,53.26 60.15,57.16 64.25,57.16" fill="#e2bf94" stroke="#1a1410" stroke-width="1" stroke-linejoin="round"/>
<polygon points="63.4,58.96 61.35,62.86 65.45,62.86" fill="#e2bf94" stroke="#1a1410" stroke-width="1" stroke-linejoin="round"/>
<polygon points="62.8,61.26 60.75,65.16 64.85,65.16" fill="#e2bf94" stroke="#1a1410" stroke-width="1" stroke-linejoin="round"/>
<polygon points="65.1,70.56 63.05,74.46 67.15,74.46" fill="#e2bf94" stroke="#1a1410" stroke-width="1" stroke-linejoin="round"/>
<polygon points="61.1,73.96 59.05,77.86 63.15,77.86" fill="#e2bf94" stroke="#1a1410" stroke-width="1" stroke-linejoin="round"/>
<line x1="40" y1="61.5" x2="48" y2="61.5" stroke="#de4a62" stroke-width="1.15"/>
<line x1="49.5" y1="48.2" x2="57" y2="48.2" stroke="#de4a62" stroke-width="1.15"/>
<line x1="60" y1="63.6" x2="66" y2="63.6" stroke="#de4a62" stroke-width="1.15"/>
<line x1="77.3" y1="62.5" x2="86.9" y2="62.5" stroke="#111" stroke-width="1.3"/>
<circle cx="80.25" cy="58.9" r="1.25" fill="#111"/>
<circle cx="83.95" cy="58.9" r="1.25" fill="#111"/>
<line x1="88.8" y1="62.5" x2="98.1" y2="62.5" stroke="#111" stroke-width="1.3"/>
<circle cx="93.45" cy="58.9" r="1.25" fill="#111"/>
<circle cx="77.2" cy="67.1" r="1.6" fill="#4479a8" stroke="#15293a" stroke-width="1.0"/>
<circle cx="81.3" cy="66.5" r="1.6" fill="#4479a8" stroke="#15293a" stroke-width="1.0"/>
<circle cx="78.4" cy="70" r="1.6" fill="#4479a8" stroke="#15293a" stroke-width="1.0"/>
<circle cx="79" cy="72.9" r="1.6" fill="#4479a8" stroke="#15293a" stroke-width="1.0"/>
<circle cx="79.5" cy="75.2" r="1.6" fill="#4479a8" stroke="#15293a" stroke-width="1.0"/>
<circle cx="78.4" cy="77.5" r="1.6" fill="#4479a8" stroke="#15293a" stroke-width="1.0"/>
<rect x="84.33" y="69.52" width="3.15" height="3.15" fill="#368c5a" stroke="#0f2c1c" stroke-width="1.0"/>
<rect x="87.12" y="70.72" width="3.15" height="3.15" fill="#368c5a" stroke="#0f2c1c" stroke-width="1.0"/>
<rect x="88.92" y="72.42" width="3.15" height="3.15" fill="#368c5a" stroke="#0f2c1c" stroke-width="1.0"/>
<rect x="89.52" y="74.22" width="3.15" height="3.15" fill="#368c5a" stroke="#0f2c1c" stroke-width="1.0"/>
<rect x="85.42" y="78.22" width="3.15" height="3.15" fill="#368c5a" stroke="#0f2c1c" stroke-width="1.0"/>
<rect x="86.62" y="82.83" width="3.15" height="3.15" fill="#368c5a" stroke="#0f2c1c" stroke-width="1.0"/>
<rect x="87.12" y="85.12" width="3.15" height="3.15" fill="#368c5a" stroke="#0f2c1c" stroke-width="1.0"/>
<rect x="87.12" y="88.02" width="3.15" height="3.15" fill="#368c5a" stroke="#0f2c1c" stroke-width="1.0"/>
<polygon points="98.1,67.26 96.05,71.16 100.15,71.16" fill="#e2bf94" stroke="#1a1410" stroke-width="1" stroke-linejoin="round"/>
<polygon points="96.5,70.76 94.45,74.66 98.55,74.66" fill="#e2bf94" stroke="#1a1410" stroke-width="1" stroke-linejoin="round"/>
<polygon points="100.4,71.16 98.35,75.06 102.45,75.06" fill="#e2bf94" stroke="#1a1410" stroke-width="1" stroke-linejoin="round"/>
<polygon points="97.7,73.46 95.65,77.36 99.75,77.36" fill="#e2bf94" stroke="#1a1410" stroke-width="1" stroke-linejoin="round"/>
<polygon points="99.2,74.16 97.15,78.06 101.25,78.06" fill="#e2bf94" stroke="#1a1410" stroke-width="1" stroke-linejoin="round"/>
<line x1="75" y1="70.6" x2="82" y2="70.6" stroke="#de4a62" stroke-width="1.15"/>
<line x1="84" y1="79.8" x2="92" y2="79.8" stroke="#de4a62" stroke-width="1.15"/>
<line x1="96" y1="73.5" x2="101" y2="73.5" stroke="#de4a62" stroke-width="1.15"/>
<circle cx="44.4" cy="164.4" r="1.6" fill="#4479a8" stroke="#15293a" stroke-width="1.0"/>
<circle cx="44.4" cy="166.7" r="1.6" fill="#4479a8" stroke="#15293a" stroke-width="1.0"/>
<circle cx="44.4" cy="169" r="1.6" fill="#4479a8" stroke="#15293a" stroke-width="1.0"/>
<circle cx="44.4" cy="171.3" r="1.6" fill="#4479a8" stroke="#15293a" stroke-width="1.0"/>
<circle cx="44.4" cy="174.2" r="1.6" fill="#4479a8" stroke="#15293a" stroke-width="1.0"/>
<circle cx="44.4" cy="177.1" r="1.6" fill="#4479a8" stroke="#15293a" stroke-width="1.0"/>
<circle cx="44.4" cy="182.9" r="1.6" fill="#4479a8" stroke="#15293a" stroke-width="1.0"/>
<rect x="51.72" y="162.83" width="3.15" height="3.15" fill="#368c5a" stroke="#0f2c1c" stroke-width="1.0"/>
<rect x="51.72" y="170.93" width="3.15" height="3.15" fill="#368c5a" stroke="#0f2c1c" stroke-width="1.0"/>
<rect x="52.22" y="173.23" width="3.15" height="3.15" fill="#368c5a" stroke="#0f2c1c" stroke-width="1.0"/>
<rect x="53.42" y="176.12" width="3.15" height="3.15" fill="#368c5a" stroke="#0f2c1c" stroke-width="1.0"/>
<rect x="55.12" y="177.83" width="3.15" height="3.15" fill="#368c5a" stroke="#0f2c1c" stroke-width="1.0"/>
<rect x="50.52" y="181.33" width="3.15" height="3.15" fill="#368c5a" stroke="#0f2c1c" stroke-width="1.0"/>
<polygon points="61.3,164.36 59.25,168.26 63.35,168.26" fill="#e2bf94" stroke="#1a1410" stroke-width="1" stroke-linejoin="round"/>
<polygon points="61.3,171.86 59.25,175.76 63.35,175.76" fill="#e2bf94" stroke="#1a1410" stroke-width="1" stroke-linejoin="round"/>
<polygon points="59.6,178.76 57.55,182.66 61.65,182.66" fill="#e2bf94" stroke="#1a1410" stroke-width="1" stroke-linejoin="round"/>
<polygon points="62.5,178.76 60.45,182.66 64.55,182.66" fill="#e2bf94" stroke="#1a1410" stroke-width="1" stroke-linejoin="round"/>
<polygon points="64.8,178.76 62.75,182.66 66.85,182.66" fill="#e2bf94" stroke="#1a1410" stroke-width="1" stroke-linejoin="round"/>
<line x1="40.5" y1="170.8" x2="48.5" y2="170.8" stroke="#de4a62" stroke-width="1.15"/>
<line x1="49.5" y1="174.2" x2="57.5" y2="174.2" stroke="#de4a62" stroke-width="1.15"/>
<line x1="58" y1="174.2" x2="64.5" y2="174.2" stroke="#de4a62" stroke-width="1.15"/>
<circle cx="78.1" cy="181.1" r="1.6" fill="#4479a8" stroke="#15293a" stroke-width="1.0"/>
<circle cx="74.6" cy="184" r="1.6" fill="#4479a8" stroke="#15293a" stroke-width="1.0"/>
<circle cx="72.9" cy="188" r="1.6" fill="#4479a8" stroke="#15293a" stroke-width="1.0"/>
<circle cx="74.6" cy="191" r="1.6" fill="#4479a8" stroke="#15293a" stroke-width="1.0"/>
<circle cx="72.9" cy="193.8" r="1.6" fill="#4479a8" stroke="#15293a" stroke-width="1.0"/>
<circle cx="75.8" cy="195" r="1.6" fill="#4479a8" stroke="#15293a" stroke-width="1.0"/>
<circle cx="76.9" cy="192.7" r="1.6" fill="#4479a8" stroke="#15293a" stroke-width="1.0"/>
<rect x="81.12" y="179.53" width="3.15" height="3.15" fill="#368c5a" stroke="#0f2c1c" stroke-width="1.0"/>
<rect x="84.52" y="179.53" width="3.15" height="3.15" fill="#368c5a" stroke="#0f2c1c" stroke-width="1.0"/>
<rect x="85.72" y="179.53" width="3.15" height="3.15" fill="#368c5a" stroke="#0f2c1c" stroke-width="1.0"/>
<rect x="82.83" y="187.62" width="3.15" height="3.15" fill="#368c5a" stroke="#0f2c1c" stroke-width="1.0"/>
<rect x="82.83" y="189.43" width="3.15" height="3.15" fill="#368c5a" stroke="#0f2c1c" stroke-width="1.0"/>
<rect x="82.83" y="191.73" width="3.15" height="3.15" fill="#368c5a" stroke="#0f2c1c" stroke-width="1.0"/>
<rect x="82.83" y="194.03" width="3.15" height="3.15" fill="#368c5a" stroke="#0f2c1c" stroke-width="1.0"/>
<rect x="82.83" y="196.33" width="3.15" height="3.15" fill="#368c5a" stroke="#0f2c1c" stroke-width="1.0"/>
<polygon points="89.6,181.66 87.55,185.56 91.65,185.56" fill="#e2bf94" stroke="#1a1410" stroke-width="1" stroke-linejoin="round"/>
<polygon points="92.5,181.66 90.45,185.56 94.55,185.56" fill="#e2bf94" stroke="#1a1410" stroke-width="1" stroke-linejoin="round"/>
<polygon points="94.8,182.26 92.75,186.16 96.85,186.16" fill="#e2bf94" stroke="#1a1410" stroke-width="1" stroke-linejoin="round"/>
<polygon points="90.7,189.16 88.65,193.06 92.75,193.06" fill="#e2bf94" stroke="#1a1410" stroke-width="1" stroke-linejoin="round"/>
<polygon points="94.2,189.76 92.15,193.66 96.25,193.66" fill="#e2bf94" stroke="#1a1410" stroke-width="1" stroke-linejoin="round"/>
<polygon points="92.5,192.06 90.45,195.96 94.55,195.96" fill="#e2bf94" stroke="#1a1410" stroke-width="1" stroke-linejoin="round"/>
<polygon points="93.6,193.76 91.55,197.66 95.65,197.66" fill="#e2bf94" stroke="#1a1410" stroke-width="1" stroke-linejoin="round"/>
<line x1="71.5" y1="189.2" x2="80" y2="189.2" stroke="#de4a62" stroke-width="1.15"/>
<line x1="80.5" y1="189.8" x2="88.5" y2="189.8" stroke="#de4a62" stroke-width="1.15"/>
<line x1="88.5" y1="189.8" x2="96.5" y2="189.8" stroke="#de4a62" stroke-width="1.15"/>
<circle cx="106.9" cy="193.3" r="1.6" fill="#4479a8" stroke="#15293a" stroke-width="1.0"/>
<circle cx="104" cy="198.5" r="1.6" fill="#4479a8" stroke="#15293a" stroke-width="1.0"/>
<circle cx="108.1" cy="199.6" r="1.6" fill="#4479a8" stroke="#15293a" stroke-width="1.0"/>
<circle cx="109.2" cy="201.3" r="1.6" fill="#4479a8" stroke="#15293a" stroke-width="1.0"/>
<circle cx="106.3" cy="203.1" r="1.6" fill="#4479a8" stroke="#15293a" stroke-width="1.0"/>
<circle cx="106.3" cy="210.6" r="1.6" fill="#4479a8" stroke="#15293a" stroke-width="1.0"/>
<circle cx="106.3" cy="212.9" r="1.6" fill="#4479a8" stroke="#15293a" stroke-width="1.0"/>
<rect x="112.83" y="194.03" width="3.15" height="3.15" fill="#368c5a" stroke="#0f2c1c" stroke-width="1.0"/>
<rect x="113.42" y="199.73" width="3.15" height="3.15" fill="#368c5a" stroke="#0f2c1c" stroke-width="1.0"/>
<rect x="111.12" y="203.23" width="3.15" height="3.15" fill="#368c5a" stroke="#0f2c1c" stroke-width="1.0"/>
<rect x="114.02" y="202.62" width="3.15" height="3.15" fill="#368c5a" stroke="#0f2c1c" stroke-width="1.0"/>
<rect x="116.33" y="203.23" width="3.15" height="3.15" fill="#368c5a" stroke="#0f2c1c" stroke-width="1.0"/>
<rect x="113.42" y="205.53" width="3.15" height="3.15" fill="#368c5a" stroke="#0f2c1c" stroke-width="1.0"/>
<rect x="114.02" y="207.83" width="3.15" height="3.15" fill="#368c5a" stroke="#0f2c1c" stroke-width="1.0"/>
<polygon points="123.6,200.16 121.55,204.06 125.65,204.06" fill="#e2bf94" stroke="#1a1410" stroke-width="1" stroke-linejoin="round"/>
<polygon points="123.6,203.66 121.55,207.56 125.65,207.56" fill="#e2bf94" stroke="#1a1410" stroke-width="1" stroke-linejoin="round"/>
<polygon points="124.8,206.46 122.75,210.36 126.85,210.36" fill="#e2bf94" stroke="#1a1410" stroke-width="1" stroke-linejoin="round"/>
<polygon points="122.5,212.26 120.45,216.16 124.55,216.16" fill="#e2bf94" stroke="#1a1410" stroke-width="1" stroke-linejoin="round"/>
<polygon points="126.5,211.06 124.45,214.96 128.55,214.96" fill="#e2bf94" stroke="#1a1410" stroke-width="1" stroke-linejoin="round"/>
<line x1="103" y1="202.5" x2="110" y2="202.5" stroke="#de4a62" stroke-width="1.15"/>
<line x1="111" y1="201.9" x2="119" y2="201.9" stroke="#de4a62" stroke-width="1.15"/>
<line x1="120.5" y1="208.3" x2="127.5" y2="208.3" stroke="#de4a62" stroke-width="1.15"/>
<circle cx="136.3" cy="192.7" r="1.6" fill="#4479a8" stroke="#15293a" stroke-width="1.0"/>
<circle cx="140.4" cy="189.8" r="1.6" fill="#4479a8" stroke="#15293a" stroke-width="1.0"/>
<circle cx="134.6" cy="198.5" r="1.6" fill="#4479a8" stroke="#15293a" stroke-width="1.0"/>
<circle cx="136.9" cy="200.2" r="1.6" fill="#4479a8" stroke="#15293a" stroke-width="1.0"/>
<circle cx="138.1" cy="202.5" r="1.6" fill="#4479a8" stroke="#15293a" stroke-width="1.0"/>
<circle cx="139.2" cy="204.2" r="1.6" fill="#4479a8" stroke="#15293a" stroke-width="1.0"/>
<circle cx="136.3" cy="210.6" r="1.6" fill="#4479a8" stroke="#15293a" stroke-width="1.0"/>
<circle cx="140.4" cy="209.4" r="1.6" fill="#4479a8" stroke="#15293a" stroke-width="1.0"/>
<rect x="144.53" y="189.93" width="3.15" height="3.15" fill="#368c5a" stroke="#0f2c1c" stroke-width="1.0"/>
<rect x="142.23" y="197.43" width="3.15" height="3.15" fill="#368c5a" stroke="#0f2c1c" stroke-width="1.0"/>
<rect x="146.83" y="197.43" width="3.15" height="3.15" fill="#368c5a" stroke="#0f2c1c" stroke-width="1.0"/>
<rect x="144.53" y="199.73" width="3.15" height="3.15" fill="#368c5a" stroke="#0f2c1c" stroke-width="1.0"/>
<rect x="142.83" y="201.53" width="3.15" height="3.15" fill="#368c5a" stroke="#0f2c1c" stroke-width="1.0"/>
<rect x="148.03" y="201.53" width="3.15" height="3.15" fill="#368c5a" stroke="#0f2c1c" stroke-width="1.0"/>
<rect x="144.53" y="203.83" width="3.15" height="3.15" fill="#368c5a" stroke="#0f2c1c" stroke-width="1.0"/>
<rect x="144.53" y="209.53" width="3.15" height="3.15" fill="#368c5a" stroke="#0f2c1c" stroke-width="1.0"/>
<polygon points="154.8,186.36 152.75,190.26 156.85,190.26" fill="#e2bf94" stroke="#1a1410" stroke-width="1" stroke-linejoin="round"/>
<polygon points="154.8,192.66 152.75,196.56 156.85,196.56" fill="#e2bf94" stroke="#1a1410" stroke-width="1" stroke-linejoin="round"/>
<polygon points="153.1,199.56 151.05,203.46 155.15,203.46" fill="#e2bf94" stroke="#1a1410" stroke-width="1" stroke-linejoin="round"/>
<polygon points="155.9,204.16 153.85,208.06 157.95,208.06" fill="#e2bf94" stroke="#1a1410" stroke-width="1" stroke-linejoin="round"/>
<polygon points="156.5,207.66 154.45,211.56 158.55,211.56" fill="#e2bf94" stroke="#1a1410" stroke-width="1" stroke-linejoin="round"/>
<polygon points="153.6,211.06 151.55,214.96 155.65,214.96" fill="#e2bf94" stroke="#1a1410" stroke-width="1" stroke-linejoin="round"/>
<line x1="132.5" y1="200.8" x2="141.5" y2="200.8" stroke="#de4a62" stroke-width="1.15"/>
<line x1="142" y1="201.3" x2="150.5" y2="201.3" stroke="#de4a62" stroke-width="1.15"/>
<line x1="152.5" y1="200.8" x2="157.5" y2="200.8" stroke="#de4a62" stroke-width="1.15"/>
<line x1="222.6" y1="24.7" x2="232.4" y2="24.7" stroke="#111" stroke-width="1.3"/>
<circle cx="223.8" cy="21.1" r="1.25" fill="#111"/>
<circle cx="227.5" cy="21.1" r="1.25" fill="#111"/>
<circle cx="231.2" cy="21.1" r="1.25" fill="#111"/>
<line x1="234.1" y1="24.7" x2="241.1" y2="24.7" stroke="#111" stroke-width="1.3"/>
<circle cx="235.75" cy="21.1" r="1.25" fill="#111"/>
<circle cx="239.45" cy="21.1" r="1.25" fill="#111"/>
<circle cx="223.8" cy="41.6" r="1.6" fill="#4479a8" stroke="#15293a" stroke-width="1.0"/>
<circle cx="220.9" cy="49.1" r="1.6" fill="#4479a8" stroke="#15293a" stroke-width="1.0"/>
<circle cx="223.8" cy="49.1" r="1.6" fill="#4479a8" stroke="#15293a" stroke-width="1.0"/>
<circle cx="225.5" cy="50.3" r="1.6" fill="#4479a8" stroke="#15293a" stroke-width="1.0"/>
<circle cx="223.8" cy="55.5" r="1.6" fill="#4479a8" stroke="#15293a" stroke-width="1.0"/>
<rect x="227.93" y="30.82" width="3.15" height="3.15" fill="#368c5a" stroke="#0f2c1c" stroke-width="1.0"/>
<rect x="231.43" y="31.43" width="3.15" height="3.15" fill="#368c5a" stroke="#0f2c1c" stroke-width="1.0"/>
<rect x="233.73" y="32.02" width="3.15" height="3.15" fill="#368c5a" stroke="#0f2c1c" stroke-width="1.0"/>
<rect x="230.23" y="34.32" width="3.15" height="3.15" fill="#368c5a" stroke="#0f2c1c" stroke-width="1.0"/>
<rect x="232.53" y="34.92" width="3.15" height="3.15" fill="#368c5a" stroke="#0f2c1c" stroke-width="1.0"/>
<rect x="232.53" y="37.22" width="3.15" height="3.15" fill="#368c5a" stroke="#0f2c1c" stroke-width="1.0"/>
<rect x="229.12" y="40.02" width="3.15" height="3.15" fill="#368c5a" stroke="#0f2c1c" stroke-width="1.0"/>
<polygon points="240.5,36.96 238.45,40.86 242.55,40.86" fill="#e2bf94" stroke="#1a1410" stroke-width="1" stroke-linejoin="round"/>
<polygon points="240.5,39.26 238.45,43.16 242.55,43.16" fill="#e2bf94" stroke="#1a1410" stroke-width="1" stroke-linejoin="round"/>
<polygon points="241.6,43.36 239.55,47.26 243.65,47.26" fill="#e2bf94" stroke="#1a1410" stroke-width="1" stroke-linejoin="round"/>
<polygon points="242.8,45.66 240.75,49.56 244.85,49.56" fill="#e2bf94" stroke="#1a1410" stroke-width="1" stroke-linejoin="round"/>
<polygon points="238.8,49.06 236.75,52.96 240.85,52.96" fill="#e2bf94" stroke="#1a1410" stroke-width="1" stroke-linejoin="round"/>
<line x1="219" y1="45.7" x2="228" y2="45.7" stroke="#de4a62" stroke-width="1.15"/>
<line x1="228.5" y1="35.9" x2="236.5" y2="35.9" stroke="#de4a62" stroke-width="1.15"/>
<line x1="237.5" y1="42.2" x2="244" y2="42.2" stroke="#de4a62" stroke-width="1.15"/>
<line x1="255" y1="62.7" x2="263.1" y2="62.7" stroke="#111" stroke-width="1.3"/>
<circle cx="257.2" cy="59.1" r="1.25" fill="#111"/>
<circle cx="260.9" cy="59.1" r="1.25" fill="#111"/>
<line x1="263.8" y1="62.7" x2="271.5" y2="62.7" stroke="#111" stroke-width="1.3"/>
<circle cx="265.8" cy="59.1" r="1.25" fill="#111"/>
<circle cx="269.5" cy="59.1" r="1.25" fill="#111"/>
<circle cx="251.9" cy="66.9" r="1.6" fill="#4479a8" stroke="#15293a" stroke-width="1.0"/>
<circle cx="251.5" cy="72.3" r="1.6" fill="#4479a8" stroke="#15293a" stroke-width="1.0"/>
<circle cx="253.8" cy="71.5" r="1.6" fill="#4479a8" stroke="#15293a" stroke-width="1.0"/>
<circle cx="256.5" cy="70.8" r="1.6" fill="#4479a8" stroke="#15293a" stroke-width="1.0"/>
<circle cx="257.3" cy="72.7" r="1.6" fill="#4479a8" stroke="#15293a" stroke-width="1.0"/>
<circle cx="254.2" cy="76.9" r="1.6" fill="#4479a8" stroke="#15293a" stroke-width="1.0"/>
<rect x="259.62" y="74.62" width="3.15" height="3.15" fill="#368c5a" stroke="#0f2c1c" stroke-width="1.0"/>
<rect x="261.93" y="74.22" width="3.15" height="3.15" fill="#368c5a" stroke="#0f2c1c" stroke-width="1.0"/>
<rect x="264.62" y="73.83" width="3.15" height="3.15" fill="#368c5a" stroke="#0f2c1c" stroke-width="1.0"/>
<rect x="261.12" y="79.22" width="3.15" height="3.15" fill="#368c5a" stroke="#0f2c1c" stroke-width="1.0"/>
<rect x="261.53" y="82.22" width="3.15" height="3.15" fill="#368c5a" stroke="#0f2c1c" stroke-width="1.0"/>
<rect x="261.12" y="86.92" width="3.15" height="3.15" fill="#368c5a" stroke="#0f2c1c" stroke-width="1.0"/>
<polygon points="271.5,66.86 269.45,70.76 273.55,70.76" fill="#e2bf94" stroke="#1a1410" stroke-width="1" stroke-linejoin="round"/>
<polygon points="271.5,69.16 269.45,73.06 273.55,73.06" fill="#e2bf94" stroke="#1a1410" stroke-width="1" stroke-linejoin="round"/>
<polygon points="271.2,71.46 269.15,75.36 273.25,75.36" fill="#e2bf94" stroke="#1a1410" stroke-width="1" stroke-linejoin="round"/>
<polygon points="271.2,74.56 269.15,78.46 273.25,78.46" fill="#e2bf94" stroke="#1a1410" stroke-width="1" stroke-linejoin="round"/>
<polygon points="272.3,75.36 270.25,79.26 274.35,79.26" fill="#e2bf94" stroke="#1a1410" stroke-width="1" stroke-linejoin="round"/>
<line x1="250.4" y1="72.3" x2="258.5" y2="72.3" stroke="#de4a62" stroke-width="1.15"/>
<line x1="259" y1="80.8" x2="267" y2="80.8" stroke="#de4a62" stroke-width="1.15"/>
<line x1="268" y1="72.7" x2="275" y2="72.7" stroke="#de4a62" stroke-width="1.15"/>
<line x1="287.2" y1="38.5" x2="294.4" y2="38.5" stroke="#111" stroke-width="1.3"/>
<circle cx="288.95" cy="34.9" r="1.25" fill="#111"/>
<circle cx="292.65" cy="34.9" r="1.25" fill="#111"/>
<line x1="296.1" y1="38.5" x2="303.1" y2="38.5" stroke="#111" stroke-width="1.3"/>
<circle cx="299.6" cy="34.9" r="1.25" fill="#111"/>
<circle cx="285.2" cy="41.9" r="1.6" fill="#4479a8" stroke="#15293a" stroke-width="1.0"/>
<circle cx="285.2" cy="44.8" r="1.6" fill="#4479a8" stroke="#15293a" stroke-width="1.0"/>
<circle cx="285.2" cy="48.3" r="1.6" fill="#4479a8" stroke="#15293a" stroke-width="1.0"/>
<circle cx="285.2" cy="50.6" r="1.6" fill="#4479a8" stroke="#15293a" stroke-width="1.0"/>
<circle cx="285.2" cy="52.9" r="1.6" fill="#4479a8" stroke="#15293a" stroke-width="1.0"/>
<circle cx="285.2" cy="54.6" r="1.6" fill="#4479a8" stroke="#15293a" stroke-width="1.0"/>
<rect x="289.93" y="55.32" width="3.15" height="3.15" fill="#368c5a" stroke="#0f2c1c" stroke-width="1.0"/>
<rect x="292.82" y="56.52" width="3.15" height="3.15" fill="#368c5a" stroke="#0f2c1c" stroke-width="1.0"/>
<rect x="288.82" y="58.22" width="3.15" height="3.15" fill="#368c5a" stroke="#0f2c1c" stroke-width="1.0"/>
<rect x="294.53" y="58.82" width="3.15" height="3.15" fill="#368c5a" stroke="#0f2c1c" stroke-width="1.0"/>
<rect x="291.12" y="61.72" width="3.15" height="3.15" fill="#368c5a" stroke="#0f2c1c" stroke-width="1.0"/>
<rect x="292.23" y="64.02" width="3.15" height="3.15" fill="#368c5a" stroke="#0f2c1c" stroke-width="1.0"/>
<polygon points="299.6,43.06 297.55,46.96 301.65,46.96" fill="#e2bf94" stroke="#1a1410" stroke-width="1" stroke-linejoin="round"/>
<polygon points="303.6,45.96 301.55,49.86 305.65,49.86" fill="#e2bf94" stroke="#1a1410" stroke-width="1" stroke-linejoin="round"/>
<polygon points="300.8,48.76 298.75,52.66 302.85,52.66" fill="#e2bf94" stroke="#1a1410" stroke-width="1" stroke-linejoin="round"/>
<polygon points="304.2,49.36 302.15,53.26 306.25,53.26" fill="#e2bf94" stroke="#1a1410" stroke-width="1" stroke-linejoin="round"/>
<polygon points="299.6,51.66 297.55,55.56 301.65,55.56" fill="#e2bf94" stroke="#1a1410" stroke-width="1" stroke-linejoin="round"/>
<polygon points="302.5,52.26 300.45,56.16 304.55,56.16" fill="#e2bf94" stroke="#1a1410" stroke-width="1" stroke-linejoin="round"/>
<line x1="281" y1="47.1" x2="289.5" y2="47.1" stroke="#de4a62" stroke-width="1.15"/>
<line x1="289" y1="60.4" x2="297.5" y2="60.4" stroke="#de4a62" stroke-width="1.15"/>
<line x1="298" y1="51.1" x2="306" y2="51.1" stroke="#de4a62" stroke-width="1.15"/>
<circle cx="316.3" cy="25.8" r="1.6" fill="#4479a8" stroke="#15293a" stroke-width="1.0"/>
<circle cx="316.3" cy="28.1" r="1.6" fill="#4479a8" stroke="#15293a" stroke-width="1.0"/>
<circle cx="316.3" cy="31" r="1.6" fill="#4479a8" stroke="#15293a" stroke-width="1.0"/>
<circle cx="316.3" cy="33.3" r="1.6" fill="#4479a8" stroke="#15293a" stroke-width="1.0"/>
<rect x="323.43" y="26.53" width="3.15" height="3.15" fill="#368c5a" stroke="#0f2c1c" stroke-width="1.0"/>
<rect x="323.43" y="29.43" width="3.15" height="3.15" fill="#368c5a" stroke="#0f2c1c" stroke-width="1.0"/>
<rect x="323.43" y="32.82" width="3.15" height="3.15" fill="#368c5a" stroke="#0f2c1c" stroke-width="1.0"/>
<polygon points="333,25.16 330.95,29.06 335.05,29.06" fill="#e2bf94" stroke="#1a1410" stroke-width="1" stroke-linejoin="round"/>
<polygon points="333,29.16 330.95,33.06 335.05,33.06" fill="#e2bf94" stroke="#1a1410" stroke-width="1" stroke-linejoin="round"/>
<polygon points="333,36.66 330.95,40.56 335.05,40.56" fill="#e2bf94" stroke="#1a1410" stroke-width="1" stroke-linejoin="round"/>
<line x1="312" y1="30.4" x2="320.5" y2="30.4" stroke="#de4a62" stroke-width="1.15"/>
<line x1="321" y1="30.4" x2="329" y2="30.4" stroke="#de4a62" stroke-width="1.15"/>
<line x1="329" y1="31" x2="337" y2="31" stroke="#de4a62" stroke-width="1.15"/>
<circle cx="225.2" cy="170.4" r="1.6" fill="#4479a8" stroke="#15293a" stroke-width="1.0"/>
<circle cx="225.2" cy="172.7" r="1.6" fill="#4479a8" stroke="#15293a" stroke-width="1.0"/>
<circle cx="225.2" cy="175" r="1.6" fill="#4479a8" stroke="#15293a" stroke-width="1.0"/>
<circle cx="225.2" cy="177.3" r="1.6" fill="#4479a8" stroke="#15293a" stroke-width="1.0"/>
<circle cx="225.2" cy="179.6" r="1.6" fill="#4479a8" stroke="#15293a" stroke-width="1.0"/>
<circle cx="225.2" cy="181.3" r="1.6" fill="#4479a8" stroke="#15293a" stroke-width="1.0"/>
<rect x="232.23" y="169.93" width="3.15" height="3.15" fill="#368c5a" stroke="#0f2c1c" stroke-width="1.0"/>
<rect x="232.23" y="172.23" width="3.15" height="3.15" fill="#368c5a" stroke="#0f2c1c" stroke-width="1.0"/>
<rect x="232.23" y="175.12" width="3.15" height="3.15" fill="#368c5a" stroke="#0f2c1c" stroke-width="1.0"/>
<rect x="232.23" y="177.43" width="3.15" height="3.15" fill="#368c5a" stroke="#0f2c1c" stroke-width="1.0"/>
<rect x="232.23" y="179.23" width="3.15" height="3.15" fill="#368c5a" stroke="#0f2c1c" stroke-width="1.0"/>
<polygon points="242.5,171.46 240.45,175.36 244.55,175.36" fill="#e2bf94" stroke="#1a1410" stroke-width="1" stroke-linejoin="round"/>
<polygon points="242.5,173.76 240.45,177.66 244.55,177.66" fill="#e2bf94" stroke="#1a1410" stroke-width="1" stroke-linejoin="round"/>
<polygon points="242.5,176.16 240.45,180.06 244.55,180.06" fill="#e2bf94" stroke="#1a1410" stroke-width="1" stroke-linejoin="round"/>
<polygon points="242.5,178.46 240.45,182.36 244.55,182.36" fill="#e2bf94" stroke="#1a1410" stroke-width="1" stroke-linejoin="round"/>
<line x1="221.5" y1="174.8" x2="229" y2="174.8" stroke="#de4a62" stroke-width="1.15"/>
<line x1="230" y1="174.8" x2="237.5" y2="174.8" stroke="#de4a62" stroke-width="1.15"/>
<line x1="239" y1="176.1" x2="246" y2="176.1" stroke="#de4a62" stroke-width="1.15"/>
<circle cx="256.3" cy="174.4" r="1.6" fill="#4479a8" stroke="#15293a" stroke-width="1.0"/>
<circle cx="255.2" cy="177.3" r="1.6" fill="#4479a8" stroke="#15293a" stroke-width="1.0"/>
<circle cx="256.9" cy="179" r="1.6" fill="#4479a8" stroke="#15293a" stroke-width="1.0"/>
<circle cx="259.2" cy="183.6" r="1.6" fill="#4479a8" stroke="#15293a" stroke-width="1.0"/>
<circle cx="256.9" cy="184.8" r="1.6" fill="#4479a8" stroke="#15293a" stroke-width="1.0"/>
<circle cx="254.6" cy="186.5" r="1.6" fill="#4479a8" stroke="#15293a" stroke-width="1.0"/>
<rect x="261.12" y="175.12" width="3.15" height="3.15" fill="#368c5a" stroke="#0f2c1c" stroke-width="1.0"/>
<rect x="262.82" y="177.43" width="3.15" height="3.15" fill="#368c5a" stroke="#0f2c1c" stroke-width="1.0"/>
<rect x="266.32" y="176.93" width="3.15" height="3.15" fill="#368c5a" stroke="#0f2c1c" stroke-width="1.0"/>
<rect x="265.12" y="180.33" width="3.15" height="3.15" fill="#368c5a" stroke="#0f2c1c" stroke-width="1.0"/>
<rect x="262.23" y="182.62" width="3.15" height="3.15" fill="#368c5a" stroke="#0f2c1c" stroke-width="1.0"/>
<rect x="266.32" y="179.73" width="3.15" height="3.15" fill="#368c5a" stroke="#0f2c1c" stroke-width="1.0"/>
<polygon points="273.6,172.06 271.55,175.96 275.65,175.96" fill="#e2bf94" stroke="#1a1410" stroke-width="1" stroke-linejoin="round"/>
<polygon points="273.6,174.96 271.55,178.86 275.65,178.86" fill="#e2bf94" stroke="#1a1410" stroke-width="1" stroke-linejoin="round"/>
<polygon points="273.6,177.26 271.55,181.16 275.65,181.16" fill="#e2bf94" stroke="#1a1410" stroke-width="1" stroke-linejoin="round"/>
<polygon points="273.6,178.96 271.55,182.86 275.65,182.86" fill="#e2bf94" stroke="#1a1410" stroke-width="1" stroke-linejoin="round"/>
<line x1="252.5" y1="178.5" x2="260" y2="178.5" stroke="#de4a62" stroke-width="1.15"/>
<line x1="261" y1="179.6" x2="269" y2="179.6" stroke="#de4a62" stroke-width="1.15"/>
<line x1="270" y1="177.3" x2="277" y2="177.3" stroke="#de4a62" stroke-width="1.15"/>
<circle cx="285.2" cy="211.3" r="1.6" fill="#4479a8" stroke="#15293a" stroke-width="1.0"/>
<circle cx="288.1" cy="210.2" r="1.6" fill="#4479a8" stroke="#15293a" stroke-width="1.0"/>
<circle cx="289.8" cy="211.9" r="1.6" fill="#4479a8" stroke="#15293a" stroke-width="1.0"/>
<circle cx="286.3" cy="213.6" r="1.6" fill="#4479a8" stroke="#15293a" stroke-width="1.0"/>
<circle cx="288.7" cy="214.2" r="1.6" fill="#4479a8" stroke="#15293a" stroke-width="1.0"/>
<rect x="292.82" y="207.43" width="3.15" height="3.15" fill="#368c5a" stroke="#0f2c1c" stroke-width="1.0"/>
<rect x="295.73" y="207.43" width="3.15" height="3.15" fill="#368c5a" stroke="#0f2c1c" stroke-width="1.0"/>
<rect x="291.73" y="210.93" width="3.15" height="3.15" fill="#368c5a" stroke="#0f2c1c" stroke-width="1.0"/>
<rect x="294.53" y="211.53" width="3.15" height="3.15" fill="#368c5a" stroke="#0f2c1c" stroke-width="1.0"/>
<rect x="296.93" y="210.33" width="3.15" height="3.15" fill="#368c5a" stroke="#0f2c1c" stroke-width="1.0"/>
<rect x="295.12" y="213.23" width="3.15" height="3.15" fill="#368c5a" stroke="#0f2c1c" stroke-width="1.0"/>
<polygon points="302.5,206.66 300.45,210.56 304.55,210.56" fill="#e2bf94" stroke="#1a1410" stroke-width="1" stroke-linejoin="round"/>
<polygon points="306,207.26 303.95,211.16 308.05,211.16" fill="#e2bf94" stroke="#1a1410" stroke-width="1" stroke-linejoin="round"/>
<polygon points="303.6,210.16 301.55,214.06 305.65,214.06" fill="#e2bf94" stroke="#1a1410" stroke-width="1" stroke-linejoin="round"/>
<polygon points="307.1,210.76 305.05,214.66 309.15,214.66" fill="#e2bf94" stroke="#1a1410" stroke-width="1" stroke-linejoin="round"/>
<polygon points="304.2,213.66 302.15,217.56 306.25,217.56" fill="#e2bf94" stroke="#1a1410" stroke-width="1" stroke-linejoin="round"/>
<polygon points="307.7,212.46 305.65,216.36 309.75,216.36" fill="#e2bf94" stroke="#1a1410" stroke-width="1" stroke-linejoin="round"/>
<line x1="283" y1="212.5" x2="291.5" y2="212.5" stroke="#de4a62" stroke-width="1.15"/>
<line x1="292" y1="211.3" x2="300" y2="211.3" stroke="#de4a62" stroke-width="1.15"/>
<line x1="301" y1="212.5" x2="309" y2="212.5" stroke="#de4a62" stroke-width="1.15"/>
<circle cx="318.6" cy="210.8" r="1.6" fill="#4479a8" stroke="#15293a" stroke-width="1.0"/>
<circle cx="318.6" cy="213.1" r="1.6" fill="#4479a8" stroke="#15293a" stroke-width="1.0"/>
<circle cx="318.6" cy="215.4" r="1.6" fill="#4479a8" stroke="#15293a" stroke-width="1.0"/>
<circle cx="318.6" cy="217.1" r="1.6" fill="#4479a8" stroke="#15293a" stroke-width="1.0"/>
<rect x="324.53" y="206.93" width="3.15" height="3.15" fill="#368c5a" stroke="#0f2c1c" stroke-width="1.0"/>
<rect x="325.12" y="209.73" width="3.15" height="3.15" fill="#368c5a" stroke="#0f2c1c" stroke-width="1.0"/>
<rect x="324.53" y="212.62" width="3.15" height="3.15" fill="#368c5a" stroke="#0f2c1c" stroke-width="1.0"/>
<rect x="324.03" y="216.12" width="3.15" height="3.15" fill="#368c5a" stroke="#0f2c1c" stroke-width="1.0"/>
<rect x="328.03" y="215.53" width="3.15" height="3.15" fill="#368c5a" stroke="#0f2c1c" stroke-width="1.0"/>
<rect x="324.03" y="217.83" width="3.15" height="3.15" fill="#368c5a" stroke="#0f2c1c" stroke-width="1.0"/>
<polygon points="336,207.86 333.95,211.76 338.05,211.76" fill="#e2bf94" stroke="#1a1410" stroke-width="1" stroke-linejoin="round"/>
<polygon points="336,210.76 333.95,214.66 338.05,214.66" fill="#e2bf94" stroke="#1a1410" stroke-width="1" stroke-linejoin="round"/>
<polygon points="336,213.06 333.95,216.96 338.05,216.96" fill="#e2bf94" stroke="#1a1410" stroke-width="1" stroke-linejoin="round"/>
<polygon points="336,215.36 333.95,219.26 338.05,219.26" fill="#e2bf94" stroke="#1a1410" stroke-width="1" stroke-linejoin="round"/>
<line x1="315" y1="213.7" x2="322.5" y2="213.7" stroke="#de4a62" stroke-width="1.15"/>
<line x1="322.5" y1="214.2" x2="330.5" y2="214.2" stroke="#de4a62" stroke-width="1.15"/>
<line x1="332.5" y1="212.5" x2="339.5" y2="212.5" stroke="#de4a62" stroke-width="1.15"/>
<line x1="405.6" y1="69.4" x2="416" y2="69.4" stroke="#111" stroke-width="1.3"/>
<circle cx="410.8" cy="64.9" r="1.25" fill="#111"/>
<circle cx="405" cy="74.8" r="1.6" fill="#4479a8" stroke="#15293a" stroke-width="1.0"/>
<circle cx="402.1" cy="78.8" r="1.6" fill="#4479a8" stroke="#15293a" stroke-width="1.0"/>
<circle cx="405" cy="79.4" r="1.6" fill="#4479a8" stroke="#15293a" stroke-width="1.0"/>
<circle cx="407.3" cy="80.6" r="1.6" fill="#4479a8" stroke="#15293a" stroke-width="1.0"/>
<circle cx="403.8" cy="81.1" r="1.6" fill="#4479a8" stroke="#15293a" stroke-width="1.0"/>
<circle cx="405" cy="89.2" r="1.6" fill="#4479a8" stroke="#15293a" stroke-width="1.0"/>
<circle cx="402.7" cy="92.1" r="1.6" fill="#4479a8" stroke="#15293a" stroke-width="1.0"/>
<circle cx="406.1" cy="93.3" r="1.6" fill="#4479a8" stroke="#15293a" stroke-width="1.0"/>
<circle cx="407.3" cy="95" r="1.6" fill="#4479a8" stroke="#15293a" stroke-width="1.0"/>
<rect x="415.03" y="81.33" width="3.15" height="3.15" fill="#368c5a" stroke="#0f2c1c" stroke-width="1.0"/>
<rect x="411.62" y="87.33" width="3.15" height="3.15" fill="#368c5a" stroke="#0f2c1c" stroke-width="1.0"/>
<rect x="417.23" y="87.33" width="3.15" height="3.15" fill="#368c5a" stroke="#0f2c1c" stroke-width="1.0"/>
<rect x="412.62" y="91.42" width="3.15" height="3.15" fill="#368c5a" stroke="#0f2c1c" stroke-width="1.0"/>
<rect x="417.23" y="91.42" width="3.15" height="3.15" fill="#368c5a" stroke="#0f2c1c" stroke-width="1.0"/>
<rect x="413.82" y="95.22" width="3.15" height="3.15" fill="#368c5a" stroke="#0f2c1c" stroke-width="1.0"/>
<rect x="417.43" y="96.92" width="3.15" height="3.15" fill="#368c5a" stroke="#0f2c1c" stroke-width="1.0"/>
<rect x="413.62" y="100.33" width="3.15" height="3.15" fill="#368c5a" stroke="#0f2c1c" stroke-width="1.0"/>
<rect x="416.62" y="100.72" width="3.15" height="3.15" fill="#368c5a" stroke="#0f2c1c" stroke-width="1.0"/>
<line x1="400" y1="84" x2="410" y2="84" stroke="#de4a62" stroke-width="1.15"/>
<line x1="412" y1="92.7" x2="421" y2="92.7" stroke="#de4a62" stroke-width="1.15"/>
<line x1="436.6" y1="75.4" x2="448" y2="75.4" stroke="#111" stroke-width="1.3"/>
<circle cx="438.6" cy="70.6" r="1.25" fill="#111"/>
<circle cx="442.3" cy="70.6" r="1.25" fill="#111"/>
<circle cx="446" cy="70.6" r="1.25" fill="#111"/>
<circle cx="433.3" cy="81.7" r="1.6" fill="#4479a8" stroke="#15293a" stroke-width="1.0"/>
<circle cx="436.1" cy="81.1" r="1.6" fill="#4479a8" stroke="#15293a" stroke-width="1.0"/>
<circle cx="438.4" cy="82.3" r="1.6" fill="#4479a8" stroke="#15293a" stroke-width="1.0"/>
<circle cx="434.4" cy="84" r="1.6" fill="#4479a8" stroke="#15293a" stroke-width="1.0"/>
<circle cx="437.3" cy="84.6" r="1.6" fill="#4479a8" stroke="#15293a" stroke-width="1.0"/>
<circle cx="436.1" cy="87.5" r="1.6" fill="#4479a8" stroke="#15293a" stroke-width="1.0"/>
<circle cx="435.6" cy="91" r="1.6" fill="#4479a8" stroke="#15293a" stroke-width="1.0"/>
<rect x="442.93" y="86.62" width="3.15" height="3.15" fill="#368c5a" stroke="#0f2c1c" stroke-width="1.0"/>
<rect x="447.93" y="86.92" width="3.15" height="3.15" fill="#368c5a" stroke="#0f2c1c" stroke-width="1.0"/>
<rect x="445.62" y="89.83" width="3.15" height="3.15" fill="#368c5a" stroke="#0f2c1c" stroke-width="1.0"/>
<rect x="443.23" y="93.02" width="3.15" height="3.15" fill="#368c5a" stroke="#0f2c1c" stroke-width="1.0"/>
<rect x="448.03" y="93.02" width="3.15" height="3.15" fill="#368c5a" stroke="#0f2c1c" stroke-width="1.0"/>
<rect x="445.62" y="96.22" width="3.15" height="3.15" fill="#368c5a" stroke="#0f2c1c" stroke-width="1.0"/>
<rect x="443.23" y="99.42" width="3.15" height="3.15" fill="#368c5a" stroke="#0f2c1c" stroke-width="1.0"/>
<rect x="447.93" y="99.42" width="3.15" height="3.15" fill="#368c5a" stroke="#0f2c1c" stroke-width="1.0"/>
<line x1="431.5" y1="84.6" x2="441" y2="84.6" stroke="#de4a62" stroke-width="1.15"/>
<line x1="443" y1="94.6" x2="452" y2="94.6" stroke="#de4a62" stroke-width="1.15"/>
<line x1="467.3" y1="74.6" x2="478.5" y2="74.6" stroke="#111" stroke-width="1.3"/>
<circle cx="472.9" cy="70.1" r="1.25" fill="#111"/>
<circle cx="466.5" cy="83.1" r="1.6" fill="#4479a8" stroke="#15293a" stroke-width="1.0"/>
<circle cx="464.1" cy="89" r="1.6" fill="#4479a8" stroke="#15293a" stroke-width="1.0"/>
<circle cx="468.1" cy="89" r="1.6" fill="#4479a8" stroke="#15293a" stroke-width="1.0"/>
<circle cx="465.7" cy="93" r="1.6" fill="#4479a8" stroke="#15293a" stroke-width="1.0"/>
<circle cx="468.9" cy="93.8" r="1.6" fill="#4479a8" stroke="#15293a" stroke-width="1.0"/>
<circle cx="464.9" cy="97" r="1.6" fill="#4479a8" stroke="#15293a" stroke-width="1.0"/>
<circle cx="467.3" cy="97" r="1.6" fill="#4479a8" stroke="#15293a" stroke-width="1.0"/>
<rect x="476.93" y="89.83" width="3.15" height="3.15" fill="#368c5a" stroke="#0f2c1c" stroke-width="1.0"/>
<rect x="474.43" y="93.02" width="3.15" height="3.15" fill="#368c5a" stroke="#0f2c1c" stroke-width="1.0"/>
<rect x="479.43" y="93.02" width="3.15" height="3.15" fill="#368c5a" stroke="#0f2c1c" stroke-width="1.0"/>
<rect x="476.93" y="95.42" width="3.15" height="3.15" fill="#368c5a" stroke="#0f2c1c" stroke-width="1.0"/>
<rect x="474.43" y="98.72" width="3.15" height="3.15" fill="#368c5a" stroke="#0f2c1c" stroke-width="1.0"/>
<rect x="479.43" y="98.72" width="3.15" height="3.15" fill="#368c5a" stroke="#0f2c1c" stroke-width="1.0"/>
<rect x="476.93" y="101.92" width="3.15" height="3.15" fill="#368c5a" stroke="#0f2c1c" stroke-width="1.0"/>
<line x1="462" y1="90.6" x2="471" y2="90.6" stroke="#de4a62" stroke-width="1.15"/>
<line x1="474" y1="96.7" x2="483" y2="96.7" stroke="#de4a62" stroke-width="1.15"/>
<line x1="497" y1="39.3" x2="508.2" y2="39.3" stroke="#111" stroke-width="1.3"/>
<circle cx="502.6" cy="34.8" r="1.25" fill="#111"/>
<circle cx="495.4" cy="49.7" r="1.6" fill="#4479a8" stroke="#15293a" stroke-width="1.0"/>
<circle cx="494.6" cy="54.5" r="1.6" fill="#4479a8" stroke="#15293a" stroke-width="1.0"/>
<circle cx="498.6" cy="54.5" r="1.6" fill="#4479a8" stroke="#15293a" stroke-width="1.0"/>
<circle cx="499.4" cy="59.3" r="1.6" fill="#4479a8" stroke="#15293a" stroke-width="1.0"/>
<circle cx="495.4" cy="62.5" r="1.6" fill="#4479a8" stroke="#15293a" stroke-width="1.0"/>
<circle cx="497" cy="64.1" r="1.6" fill="#4479a8" stroke="#15293a" stroke-width="1.0"/>
<circle cx="494.6" cy="64.9" r="1.6" fill="#4479a8" stroke="#15293a" stroke-width="1.0"/>
<rect x="505.43" y="44.12" width="3.15" height="3.15" fill="#368c5a" stroke="#0f2c1c" stroke-width="1.0"/>
<rect x="509.43" y="44.12" width="3.15" height="3.15" fill="#368c5a" stroke="#0f2c1c" stroke-width="1.0"/>
<rect x="507.43" y="46.52" width="3.15" height="3.15" fill="#368c5a" stroke="#0f2c1c" stroke-width="1.0"/>
<rect x="505.43" y="49.72" width="3.15" height="3.15" fill="#368c5a" stroke="#0f2c1c" stroke-width="1.0"/>
<rect x="509.43" y="49.72" width="3.15" height="3.15" fill="#368c5a" stroke="#0f2c1c" stroke-width="1.0"/>
<rect x="507.43" y="52.12" width="3.15" height="3.15" fill="#368c5a" stroke="#0f2c1c" stroke-width="1.0"/>
<rect x="505.43" y="54.52" width="3.15" height="3.15" fill="#368c5a" stroke="#0f2c1c" stroke-width="1.0"/>
<rect x="509.43" y="54.52" width="3.15" height="3.15" fill="#368c5a" stroke="#0f2c1c" stroke-width="1.0"/>
<rect x="507.43" y="56.92" width="3.15" height="3.15" fill="#368c5a" stroke="#0f2c1c" stroke-width="1.0"/>
<line x1="492" y1="56.1" x2="501" y2="56.1" stroke="#de4a62" stroke-width="1.15"/>
<line x1="504.5" y1="50.5" x2="513.5" y2="50.5" stroke="#de4a62" stroke-width="1.15"/>
<circle cx="409.4" cy="184.4" r="1.6" fill="#4479a8" stroke="#15293a" stroke-width="1.0"/>
<circle cx="408" cy="186.6" r="1.6" fill="#4479a8" stroke="#15293a" stroke-width="1.0"/>
<circle cx="410.9" cy="187.3" r="1.6" fill="#4479a8" stroke="#15293a" stroke-width="1.0"/>
<circle cx="407.3" cy="189.5" r="1.6" fill="#4479a8" stroke="#15293a" stroke-width="1.0"/>
<circle cx="410.2" cy="189.5" r="1.6" fill="#4479a8" stroke="#15293a" stroke-width="1.0"/>
<circle cx="407.3" cy="196" r="1.6" fill="#4479a8" stroke="#15293a" stroke-width="1.0"/>
<circle cx="411.6" cy="198.1" r="1.6" fill="#4479a8" stroke="#15293a" stroke-width="1.0"/>
<circle cx="407.3" cy="208.2" r="1.6" fill="#4479a8" stroke="#15293a" stroke-width="1.0"/>
<circle cx="411.6" cy="206.8" r="1.6" fill="#4479a8" stroke="#15293a" stroke-width="1.0"/>
<rect x="423.03" y="182.83" width="3.15" height="3.15" fill="#368c5a" stroke="#0f2c1c" stroke-width="1.0"/>
<rect x="418.73" y="185.73" width="3.15" height="3.15" fill="#368c5a" stroke="#0f2c1c" stroke-width="1.0"/>
<rect x="423.03" y="187.23" width="3.15" height="3.15" fill="#368c5a" stroke="#0f2c1c" stroke-width="1.0"/>
<rect x="419.43" y="190.03" width="3.15" height="3.15" fill="#368c5a" stroke="#0f2c1c" stroke-width="1.0"/>
<rect x="423.73" y="191.53" width="3.15" height="3.15" fill="#368c5a" stroke="#0f2c1c" stroke-width="1.0"/>
<rect x="418.73" y="193.73" width="3.15" height="3.15" fill="#368c5a" stroke="#0f2c1c" stroke-width="1.0"/>
<rect x="421.53" y="194.43" width="3.15" height="3.15" fill="#368c5a" stroke="#0f2c1c" stroke-width="1.0"/>
<rect x="419.43" y="197.33" width="3.15" height="3.15" fill="#368c5a" stroke="#0f2c1c" stroke-width="1.0"/>
<rect x="422.32" y="198.03" width="3.15" height="3.15" fill="#368c5a" stroke="#0f2c1c" stroke-width="1.0"/>
<line x1="403.5" y1="192.4" x2="413.5" y2="192.4" stroke="#de4a62" stroke-width="1.15"/>
<line x1="418" y1="193.1" x2="427" y2="193.1" stroke="#de4a62" stroke-width="1.15"/>
<circle cx="442.6" cy="197.4" r="1.6" fill="#4479a8" stroke="#15293a" stroke-width="1.0"/>
<circle cx="447" cy="196.7" r="1.6" fill="#4479a8" stroke="#15293a" stroke-width="1.0"/>
<circle cx="444.1" cy="200.3" r="1.6" fill="#4479a8" stroke="#15293a" stroke-width="1.0"/>
<circle cx="446.2" cy="201" r="1.6" fill="#4479a8" stroke="#15293a" stroke-width="1.0"/>
<circle cx="444.8" cy="204.6" r="1.6" fill="#4479a8" stroke="#15293a" stroke-width="1.0"/>
<circle cx="445.5" cy="206.8" r="1.6" fill="#4479a8" stroke="#15293a" stroke-width="1.0"/>
<rect x="454.73" y="198.73" width="3.15" height="3.15" fill="#368c5a" stroke="#0f2c1c" stroke-width="1.0"/>
<rect x="459.12" y="198.73" width="3.15" height="3.15" fill="#368c5a" stroke="#0f2c1c" stroke-width="1.0"/>
<rect x="454.03" y="202.33" width="3.15" height="3.15" fill="#368c5a" stroke="#0f2c1c" stroke-width="1.0"/>
<rect x="459.12" y="203.03" width="3.15" height="3.15" fill="#368c5a" stroke="#0f2c1c" stroke-width="1.0"/>
<rect x="455.43" y="205.93" width="3.15" height="3.15" fill="#368c5a" stroke="#0f2c1c" stroke-width="1.0"/>
<rect x="459.12" y="206.62" width="3.15" height="3.15" fill="#368c5a" stroke="#0f2c1c" stroke-width="1.0"/>
<rect x="455.43" y="208.12" width="3.15" height="3.15" fill="#368c5a" stroke="#0f2c1c" stroke-width="1.0"/>
<line x1="440" y1="201.5" x2="450" y2="201.5" stroke="#de4a62" stroke-width="1.15"/>
<line x1="453" y1="204.6" x2="463" y2="204.6" stroke="#de4a62" stroke-width="1.15"/>
<line x1="44.2" y1="363.7" x2="44.2" y2="360" stroke="#111111" stroke-width="1.4"/>
<line x1="41.7" y1="360" x2="46.7" y2="360" stroke="#111111" stroke-width="1.4"/>
<rect x="39.2" y="363.7" width="10" height="30.1" fill="#1e8ee6" stroke="#111111" stroke-width="1.1"/>
<line x1="57.85" y1="327.3" x2="57.85" y2="321.5" stroke="#111111" stroke-width="1.4"/>
<line x1="55.35" y1="321.5" x2="60.35" y2="321.5" stroke="#111111" stroke-width="1.4"/>
<rect x="52.8" y="327.3" width="10.1" height="66.5" fill="#1a9a48" stroke="#111111" stroke-width="1.1"/>
<line x1="45.6" y1="317.7" x2="57.7" y2="317.7" stroke="#111" stroke-width="1.3"/>
<circle cx="47.95" cy="314.1" r="1.25" fill="#111"/>
<circle cx="51.65" cy="314.1" r="1.25" fill="#111"/>
<circle cx="55.35" cy="314.1" r="1.25" fill="#111"/>
<line x1="143.7" y1="325" x2="168.1" y2="325" stroke="#111" stroke-width="1.3"/>
<circle cx="152.2" cy="321.4" r="1.25" fill="#111"/>
<circle cx="155.9" cy="321.4" r="1.25" fill="#111"/>
<circle cx="159.6" cy="321.4" r="1.25" fill="#111"/>
<circle cx="139.1" cy="373.6" r="1.6" fill="#4479a8" stroke="#15293a" stroke-width="1.0"/>
<circle cx="144" cy="371.8" r="1.6" fill="#4479a8" stroke="#15293a" stroke-width="1.0"/>
<circle cx="134.2" cy="382" r="1.6" fill="#4479a8" stroke="#15293a" stroke-width="1.0"/>
<circle cx="138.7" cy="384.1" r="1.6" fill="#4479a8" stroke="#15293a" stroke-width="1.0"/>
<circle cx="145.8" cy="383.8" r="1.6" fill="#4479a8" stroke="#15293a" stroke-width="1.0"/>
<circle cx="141.4" cy="387.7" r="1.6" fill="#4479a8" stroke="#15293a" stroke-width="1.0"/>
<circle cx="136.5" cy="381" r="1.6" fill="#4479a8" stroke="#15293a" stroke-width="1.0"/>
<circle cx="143" cy="381.5" r="1.6" fill="#4479a8" stroke="#15293a" stroke-width="1.0"/>
<circle cx="147" cy="381.5" r="1.6" fill="#4479a8" stroke="#15293a" stroke-width="1.0"/>
<rect x="162.12" y="328.32" width="3.15" height="3.15" fill="#368c5a" stroke="#0f2c1c" stroke-width="1.0"/>
<rect x="167.03" y="332.32" width="3.15" height="3.15" fill="#368c5a" stroke="#0f2c1c" stroke-width="1.0"/>
<rect x="172.43" y="330.53" width="3.15" height="3.15" fill="#368c5a" stroke="#0f2c1c" stroke-width="1.0"/>
<rect x="167.43" y="342.62" width="3.15" height="3.15" fill="#368c5a" stroke="#0f2c1c" stroke-width="1.0"/>
<rect x="164.23" y="354.53" width="3.15" height="3.15" fill="#368c5a" stroke="#0f2c1c" stroke-width="1.0"/>
<rect x="169.53" y="352.82" width="3.15" height="3.15" fill="#368c5a" stroke="#0f2c1c" stroke-width="1.0"/>
<rect x="167.03" y="364.73" width="3.15" height="3.15" fill="#368c5a" stroke="#0f2c1c" stroke-width="1.0"/>
<rect x="164.23" y="375.03" width="3.15" height="3.15" fill="#368c5a" stroke="#0f2c1c" stroke-width="1.0"/>
<rect x="169.53" y="373.32" width="3.15" height="3.15" fill="#368c5a" stroke="#0f2c1c" stroke-width="1.0"/>
<line x1="132.5" y1="381.1" x2="150.3" y2="381.1" stroke="#de4a62" stroke-width="1.15"/>
<line x1="160.1" y1="352" x2="177.6" y2="352" stroke="#de4a62" stroke-width="1.15"/>
<line x1="248.4" y1="343.5" x2="248.4" y2="334.2" stroke="#111111" stroke-width="1.4"/>
<line x1="245.9" y1="334.2" x2="250.9" y2="334.2" stroke="#111111" stroke-width="1.4"/>
<rect x="244.8" y="343.5" width="7.2" height="50.3" fill="#1e8ee6" stroke="#111111" stroke-width="1.1"/>
<line x1="257.95" y1="366.5" x2="257.95" y2="363.6" stroke="#111111" stroke-width="1.4"/>
<line x1="255.45" y1="363.6" x2="260.45" y2="363.6" stroke="#111111" stroke-width="1.4"/>
<rect x="254.4" y="366.5" width="7.1" height="27.3" fill="#1a9a48" stroke="#111111" stroke-width="1.1"/>
<line x1="275.8" y1="377.4" x2="275.8" y2="375.3" stroke="#111111" stroke-width="1.4"/>
<line x1="273.3" y1="375.3" x2="278.3" y2="375.3" stroke="#111111" stroke-width="1.4"/>
<rect x="272" y="377.4" width="7.6" height="16.4" fill="#1e8ee6" stroke="#111111" stroke-width="1.1"/>
<line x1="285.85" y1="387.2" x2="285.85" y2="386.3" stroke="#111111" stroke-width="1.4"/>
<line x1="283.35" y1="386.3" x2="288.35" y2="386.3" stroke="#111111" stroke-width="1.4"/>
<rect x="282.3" y="387.2" width="7.1" height="6.6" fill="#1a9a48" stroke="#111111" stroke-width="1.1"/>
<line x1="248.6" y1="330.6" x2="258.6" y2="330.6" stroke="#111" stroke-width="1.3"/>
<circle cx="253.6" cy="327" r="1.25" fill="#111"/>
<line x1="275.2" y1="371.3" x2="285.4" y2="371.3" stroke="#111" stroke-width="1.3"/>
<circle cx="278.45" cy="367.7" r="1.25" fill="#111"/>
<circle cx="282.15" cy="367.7" r="1.25" fill="#111"/>
<line x1="351.7" y1="380" x2="351.7" y2="379" stroke="#111111" stroke-width="1.4"/>
<line x1="349.2" y1="379" x2="354.2" y2="379" stroke="#111111" stroke-width="1.4"/>
<rect x="347.7" y="380" width="8" height="13.2" fill="#1e8ee6" stroke="#111111" stroke-width="1.1"/>
<line x1="362" y1="382.4" x2="362" y2="381.6" stroke="#111111" stroke-width="1.4"/>
<line x1="359.5" y1="381.6" x2="364.5" y2="381.6" stroke="#111111" stroke-width="1.4"/>
<rect x="358" y="382.4" width="8" height="10.8" fill="#1a9a48" stroke="#111111" stroke-width="1.1"/>
<line x1="379.5" y1="333.4" x2="379.5" y2="317.2" stroke="#111111" stroke-width="1.4"/>
<line x1="377" y1="317.2" x2="382" y2="317.2" stroke="#111111" stroke-width="1.4"/>
<rect x="375.8" y="333.4" width="7.4" height="59.8" fill="#1e8ee6" stroke="#111111" stroke-width="1.1"/>
<line x1="389.55" y1="344.3" x2="389.55" y2="335" stroke="#111111" stroke-width="1.4"/>
<line x1="387.05" y1="335" x2="392.05" y2="335" stroke="#111111" stroke-width="1.4"/>
<rect x="385.5" y="344.3" width="8.1" height="48.9" fill="#1a9a48" stroke="#111111" stroke-width="1.1"/>
<line x1="483.25" y1="329.7" x2="483.25" y2="324.3" stroke="#111111" stroke-width="1.4"/>
<line x1="480.75" y1="324.3" x2="485.75" y2="324.3" stroke="#111111" stroke-width="1.4"/>
<rect x="478" y="329.7" width="10.5" height="63.9" fill="#1e8ee6" stroke="#111111" stroke-width="1.1"/>
<line x1="497.2" y1="351.6" x2="497.2" y2="345.8" stroke="#111111" stroke-width="1.4"/>
<line x1="494.7" y1="345.8" x2="499.7" y2="345.8" stroke="#111111" stroke-width="1.4"/>
<rect x="492.4" y="351.6" width="9.6" height="42" fill="#1a9a48" stroke="#111111" stroke-width="1.1"/>
<line x1="484.3" y1="320.4" x2="495" y2="320.4" stroke="#111" stroke-width="1.3"/>
<circle cx="489.65" cy="316.8" r="1.25" fill="#111"/>
<line x1="50.2" y1="443.9" x2="63.9" y2="443.9" stroke="#111" stroke-width="1.3"/>
<circle cx="55.2" cy="440.3" r="1.25" fill="#111"/>
<circle cx="58.9" cy="440.3" r="1.25" fill="#111"/>
<circle cx="49.7" cy="456.9" r="1.6" fill="#4479a8" stroke="#15293a" stroke-width="1.0"/>
<circle cx="43.9" cy="467.9" r="1.6" fill="#4479a8" stroke="#15293a" stroke-width="1.0"/>
<circle cx="49.7" cy="465.6" r="1.6" fill="#4479a8" stroke="#15293a" stroke-width="1.0"/>
<circle cx="55.9" cy="469.6" r="1.6" fill="#4479a8" stroke="#15293a" stroke-width="1.0"/>
<circle cx="48" cy="472.5" r="1.6" fill="#4479a8" stroke="#15293a" stroke-width="1.0"/>
<circle cx="52" cy="472.8" r="1.6" fill="#4479a8" stroke="#15293a" stroke-width="1.0"/>
<circle cx="49.7" cy="480" r="1.6" fill="#4479a8" stroke="#15293a" stroke-width="1.0"/>
<rect x="60.82" y="448.12" width="3.15" height="3.15" fill="#368c5a" stroke="#0f2c1c" stroke-width="1.0"/>
<rect x="65.92" y="447.12" width="3.15" height="3.15" fill="#368c5a" stroke="#0f2c1c" stroke-width="1.0"/>
<rect x="57.22" y="452.93" width="3.15" height="3.15" fill="#368c5a" stroke="#0f2c1c" stroke-width="1.0"/>
<rect x="61.52" y="454.32" width="3.15" height="3.15" fill="#368c5a" stroke="#0f2c1c" stroke-width="1.0"/>
<rect x="69.52" y="453.62" width="3.15" height="3.15" fill="#368c5a" stroke="#0f2c1c" stroke-width="1.0"/>
<rect x="65.12" y="456.53" width="3.15" height="3.15" fill="#368c5a" stroke="#0f2c1c" stroke-width="1.0"/>
<rect x="63.02" y="462.32" width="3.15" height="3.15" fill="#368c5a" stroke="#0f2c1c" stroke-width="1.0"/>
<line x1="46.5" y1="467.5" x2="53.8" y2="467.5" stroke="#de4a62" stroke-width="1.15"/>
<line x1="63.9" y1="455.2" x2="69.6" y2="455.2" stroke="#de4a62" stroke-width="1.15"/>
<circle cx="84.4" cy="468.5" r="1.6" fill="#4479a8" stroke="#15293a" stroke-width="1.0"/>
<circle cx="89.1" cy="472.2" r="1.6" fill="#4479a8" stroke="#15293a" stroke-width="1.0"/>
<circle cx="81.9" cy="481.5" r="1.6" fill="#4479a8" stroke="#15293a" stroke-width="1.0"/>
<circle cx="92" cy="480.9" r="1.6" fill="#4479a8" stroke="#15293a" stroke-width="1.0"/>
<circle cx="87" cy="485.5" r="1.6" fill="#4479a8" stroke="#15293a" stroke-width="1.0"/>
<circle cx="87" cy="497.3" r="1.6" fill="#4479a8" stroke="#15293a" stroke-width="1.0"/>
<rect x="97.62" y="468.32" width="3.15" height="3.15" fill="#368c5a" stroke="#0f2c1c" stroke-width="1.0"/>
<rect x="102.72" y="468.32" width="3.15" height="3.15" fill="#368c5a" stroke="#0f2c1c" stroke-width="1.0"/>
<rect x="100.12" y="474.53" width="3.15" height="3.15" fill="#368c5a" stroke="#0f2c1c" stroke-width="1.0"/>
<rect x="100.12" y="479.93" width="3.15" height="3.15" fill="#368c5a" stroke="#0f2c1c" stroke-width="1.0"/>
<rect x="97.62" y="483.23" width="3.15" height="3.15" fill="#368c5a" stroke="#0f2c1c" stroke-width="1.0"/>
<rect x="102.72" y="486.53" width="3.15" height="3.15" fill="#368c5a" stroke="#0f2c1c" stroke-width="1.0"/>
<rect x="100.12" y="496.93" width="3.15" height="3.15" fill="#368c5a" stroke="#0f2c1c" stroke-width="1.0"/>
<line x1="83.3" y1="477.6" x2="90.6" y2="477.6" stroke="#de4a62" stroke-width="1.15"/>
<line x1="97.8" y1="478" x2="105.7" y2="478" stroke="#de4a62" stroke-width="1.15"/>
<line x1="161.7" y1="445" x2="169.1" y2="445" stroke="#111" stroke-width="1.3"/>
<circle cx="163.55" cy="441.4" r="1.25" fill="#111"/>
<circle cx="167.25" cy="441.4" r="1.25" fill="#111"/>
<circle cx="161.7" cy="455.7" r="1.6" fill="#4479a8" stroke="#15293a" stroke-width="1.0"/>
<circle cx="159.1" cy="458.2" r="1.6" fill="#4479a8" stroke="#15293a" stroke-width="1.0"/>
<circle cx="160.5" cy="461.4" r="1.6" fill="#4479a8" stroke="#15293a" stroke-width="1.0"/>
<circle cx="160.3" cy="464.2" r="1.6" fill="#4479a8" stroke="#15293a" stroke-width="1.0"/>
<circle cx="161.3" cy="466.4" r="1.6" fill="#4479a8" stroke="#15293a" stroke-width="1.0"/>
<rect x="167.53" y="449.12" width="3.15" height="3.15" fill="#368c5a" stroke="#0f2c1c" stroke-width="1.0"/>
<rect x="171.83" y="449.82" width="3.15" height="3.15" fill="#368c5a" stroke="#0f2c1c" stroke-width="1.0"/>
<rect x="168.23" y="452.62" width="3.15" height="3.15" fill="#368c5a" stroke="#0f2c1c" stroke-width="1.0"/>
<rect x="172.53" y="452.62" width="3.15" height="3.15" fill="#368c5a" stroke="#0f2c1c" stroke-width="1.0"/>
<rect x="168.93" y="456.23" width="3.15" height="3.15" fill="#368c5a" stroke="#0f2c1c" stroke-width="1.0"/>
<rect x="172.53" y="456.23" width="3.15" height="3.15" fill="#368c5a" stroke="#0f2c1c" stroke-width="1.0"/>
<rect x="168.93" y="459.12" width="3.15" height="3.15" fill="#368c5a" stroke="#0f2c1c" stroke-width="1.0"/>
<rect x="171.83" y="459.12" width="3.15" height="3.15" fill="#368c5a" stroke="#0f2c1c" stroke-width="1.0"/>
<line x1="157.7" y1="461.1" x2="164.1" y2="461.1" stroke="#de4a62" stroke-width="1.15"/>
<line x1="167" y1="454.2" x2="176" y2="454.2" stroke="#de4a62" stroke-width="1.15"/>
<line x1="193.3" y1="480.6" x2="199.7" y2="480.6" stroke="#111" stroke-width="1.3"/>
<circle cx="194.65" cy="477" r="1.25" fill="#111"/>
<circle cx="198.35" cy="477" r="1.25" fill="#111"/>
<circle cx="189.7" cy="486.3" r="1.6" fill="#4479a8" stroke="#15293a" stroke-width="1.0"/>
<circle cx="193.3" cy="487" r="1.6" fill="#4479a8" stroke="#15293a" stroke-width="1.0"/>
<circle cx="190.5" cy="489.9" r="1.6" fill="#4479a8" stroke="#15293a" stroke-width="1.0"/>
<circle cx="193" cy="494.1" r="1.6" fill="#4479a8" stroke="#15293a" stroke-width="1.0"/>
<circle cx="189.3" cy="497" r="1.6" fill="#4479a8" stroke="#15293a" stroke-width="1.0"/>
<circle cx="189.3" cy="501.3" r="1.6" fill="#4479a8" stroke="#15293a" stroke-width="1.0"/>
<circle cx="193.3" cy="502.7" r="1.6" fill="#4479a8" stroke="#15293a" stroke-width="1.0"/>
<circle cx="191.2" cy="510.5" r="1.6" fill="#4479a8" stroke="#15293a" stroke-width="1.0"/>
<rect x="203.12" y="494.03" width="3.15" height="3.15" fill="#368c5a" stroke="#0f2c1c" stroke-width="1.0"/>
<rect x="199.53" y="496.82" width="3.15" height="3.15" fill="#368c5a" stroke="#0f2c1c" stroke-width="1.0"/>
<rect x="199.53" y="500.43" width="3.15" height="3.15" fill="#368c5a" stroke="#0f2c1c" stroke-width="1.0"/>
<rect x="203.12" y="502.53" width="3.15" height="3.15" fill="#368c5a" stroke="#0f2c1c" stroke-width="1.0"/>
<rect x="198.12" y="508.23" width="3.15" height="3.15" fill="#368c5a" stroke="#0f2c1c" stroke-width="1.0"/>
<rect x="201.03" y="508.93" width="3.15" height="3.15" fill="#368c5a" stroke="#0f2c1c" stroke-width="1.0"/>
<rect x="204.53" y="508.23" width="3.15" height="3.15" fill="#368c5a" stroke="#0f2c1c" stroke-width="1.0"/>
<line x1="187.6" y1="493.4" x2="194" y2="493.4" stroke="#de4a62" stroke-width="1.15"/>
<line x1="199.7" y1="501.3" x2="206.8" y2="501.3" stroke="#de4a62" stroke-width="1.15"/>
<line x1="222" y1="472.1" x2="232" y2="472.1" stroke="#111" stroke-width="1.3"/>
<circle cx="223.3" cy="468.5" r="1.25" fill="#111"/>
<circle cx="227" cy="468.5" r="1.25" fill="#111"/>
<circle cx="230.7" cy="468.5" r="1.25" fill="#111"/>
<circle cx="219.1" cy="478.5" r="1.6" fill="#4479a8" stroke="#15293a" stroke-width="1.0"/>
<circle cx="222.7" cy="479.2" r="1.6" fill="#4479a8" stroke="#15293a" stroke-width="1.0"/>
<circle cx="225.6" cy="480.7" r="1.6" fill="#4479a8" stroke="#15293a" stroke-width="1.0"/>
<circle cx="219.8" cy="482.8" r="1.6" fill="#4479a8" stroke="#15293a" stroke-width="1.0"/>
<circle cx="223.4" cy="483.5" r="1.6" fill="#4479a8" stroke="#15293a" stroke-width="1.0"/>
<circle cx="220.6" cy="486.4" r="1.6" fill="#4479a8" stroke="#15293a" stroke-width="1.0"/>
<circle cx="221.3" cy="488.5" r="1.6" fill="#4479a8" stroke="#15293a" stroke-width="1.0"/>
<rect x="231.83" y="486.23" width="3.15" height="3.15" fill="#368c5a" stroke="#0f2c1c" stroke-width="1.0"/>
<rect x="230.43" y="496.93" width="3.15" height="3.15" fill="#368c5a" stroke="#0f2c1c" stroke-width="1.0"/>
<rect x="234.73" y="499.73" width="3.15" height="3.15" fill="#368c5a" stroke="#0f2c1c" stroke-width="1.0"/>
<rect x="230.43" y="501.23" width="3.15" height="3.15" fill="#368c5a" stroke="#0f2c1c" stroke-width="1.0"/>
<rect x="233.93" y="503.32" width="3.15" height="3.15" fill="#368c5a" stroke="#0f2c1c" stroke-width="1.0"/>
<rect x="230.43" y="505.43" width="3.15" height="3.15" fill="#368c5a" stroke="#0f2c1c" stroke-width="1.0"/>
<rect x="233.93" y="506.93" width="3.15" height="3.15" fill="#368c5a" stroke="#0f2c1c" stroke-width="1.0"/>
<line x1="217.7" y1="482.5" x2="223.4" y2="482.5" stroke="#de4a62" stroke-width="1.15"/>
<line x1="229.8" y1="498.5" x2="237" y2="498.5" stroke="#de4a62" stroke-width="1.15"/>
<circle cx="252.7" cy="452.8" r="1.6" fill="#4479a8" stroke="#15293a" stroke-width="1.0"/>
<circle cx="254.1" cy="455" r="1.6" fill="#4479a8" stroke="#15293a" stroke-width="1.0"/>
<circle cx="251.2" cy="457.1" r="1.6" fill="#4479a8" stroke="#15293a" stroke-width="1.0"/>
<circle cx="253.4" cy="459.3" r="1.6" fill="#4479a8" stroke="#15293a" stroke-width="1.0"/>
<circle cx="252" cy="462.1" r="1.6" fill="#4479a8" stroke="#15293a" stroke-width="1.0"/>
<circle cx="253.4" cy="463.5" r="1.6" fill="#4479a8" stroke="#15293a" stroke-width="1.0"/>
<rect x="263.23" y="449.12" width="3.15" height="3.15" fill="#368c5a" stroke="#0f2c1c" stroke-width="1.0"/>
<rect x="261.82" y="452.03" width="3.15" height="3.15" fill="#368c5a" stroke="#0f2c1c" stroke-width="1.0"/>
<rect x="265.32" y="454.12" width="3.15" height="3.15" fill="#368c5a" stroke="#0f2c1c" stroke-width="1.0"/>
<rect x="261.03" y="456.23" width="3.15" height="3.15" fill="#368c5a" stroke="#0f2c1c" stroke-width="1.0"/>
<rect x="265.32" y="457.73" width="3.15" height="3.15" fill="#368c5a" stroke="#0f2c1c" stroke-width="1.0"/>
<rect x="261.82" y="460.53" width="3.15" height="3.15" fill="#368c5a" stroke="#0f2c1c" stroke-width="1.0"/>
<rect x="263.93" y="462.73" width="3.15" height="3.15" fill="#368c5a" stroke="#0f2c1c" stroke-width="1.0"/>
<line x1="249.4" y1="457.8" x2="254.8" y2="457.8" stroke="#de4a62" stroke-width="1.15"/>
<line x1="260.5" y1="457.1" x2="268.3" y2="457.1" stroke="#de4a62" stroke-width="1.15"/>
<circle cx="322.8" cy="476.9" r="1.6" fill="#4479a8" stroke="#15293a" stroke-width="1.0"/>
<circle cx="321.5" cy="479.3" r="1.6" fill="#4479a8" stroke="#15293a" stroke-width="1.0"/>
<circle cx="324" cy="480.1" r="1.6" fill="#4479a8" stroke="#15293a" stroke-width="1.0"/>
<circle cx="322.4" cy="482.6" r="1.6" fill="#4479a8" stroke="#15293a" stroke-width="1.0"/>
<circle cx="323.2" cy="484.2" r="1.6" fill="#4479a8" stroke="#15293a" stroke-width="1.0"/>
<rect x="332.23" y="472.03" width="3.15" height="3.15" fill="#368c5a" stroke="#0f2c1c" stroke-width="1.0"/>
<rect x="329.73" y="475.32" width="3.15" height="3.15" fill="#368c5a" stroke="#0f2c1c" stroke-width="1.0"/>
<rect x="333.82" y="474.43" width="3.15" height="3.15" fill="#368c5a" stroke="#0f2c1c" stroke-width="1.0"/>
<rect x="331.43" y="477.73" width="3.15" height="3.15" fill="#368c5a" stroke="#0f2c1c" stroke-width="1.0"/>
<rect x="335.53" y="476.93" width="3.15" height="3.15" fill="#368c5a" stroke="#0f2c1c" stroke-width="1.0"/>
<rect x="332.73" y="487.53" width="3.15" height="3.15" fill="#368c5a" stroke="#0f2c1c" stroke-width="1.0"/>
<line x1="319.1" y1="480.1" x2="326.8" y2="480.1" stroke="#de4a62" stroke-width="1.15"/>
<line x1="330.5" y1="478.5" x2="337.9" y2="478.5" stroke="#de4a62" stroke-width="1.15"/>
<circle cx="353.4" cy="486.7" r="1.6" fill="#4479a8" stroke="#15293a" stroke-width="1.0"/>
<circle cx="351.8" cy="490.8" r="1.6" fill="#4479a8" stroke="#15293a" stroke-width="1.0"/>
<circle cx="355" cy="491.6" r="1.6" fill="#4479a8" stroke="#15293a" stroke-width="1.0"/>
<circle cx="353.4" cy="495.7" r="1.6" fill="#4479a8" stroke="#15293a" stroke-width="1.0"/>
<rect x="360.82" y="486.73" width="3.15" height="3.15" fill="#368c5a" stroke="#0f2c1c" stroke-width="1.0"/>
<rect x="364.93" y="486.73" width="3.15" height="3.15" fill="#368c5a" stroke="#0f2c1c" stroke-width="1.0"/>
<rect x="362.43" y="489.23" width="3.15" height="3.15" fill="#368c5a" stroke="#0f2c1c" stroke-width="1.0"/>
<rect x="365.73" y="488.43" width="3.15" height="3.15" fill="#368c5a" stroke="#0f2c1c" stroke-width="1.0"/>
<rect x="363.23" y="490.82" width="3.15" height="3.15" fill="#368c5a" stroke="#0f2c1c" stroke-width="1.0"/>
<line x1="350.1" y1="491.2" x2="356.7" y2="491.2" stroke="#de4a62" stroke-width="1.15"/>
<line x1="361" y1="488.8" x2="368.9" y2="488.8" stroke="#de4a62" stroke-width="1.15"/>
<circle cx="382" cy="493.2" r="1.6" fill="#4479a8" stroke="#15293a" stroke-width="1.0"/>
<circle cx="386.9" cy="497.3" r="1.6" fill="#4479a8" stroke="#15293a" stroke-width="1.0"/>
<circle cx="382" cy="499.7" r="1.6" fill="#4479a8" stroke="#15293a" stroke-width="1.0"/>
<circle cx="384.4" cy="501.4" r="1.6" fill="#4479a8" stroke="#15293a" stroke-width="1.0"/>
<circle cx="386.9" cy="500.6" r="1.6" fill="#4479a8" stroke="#15293a" stroke-width="1.0"/>
<circle cx="382.8" cy="502.2" r="1.6" fill="#4479a8" stroke="#15293a" stroke-width="1.0"/>
<rect x="391.82" y="493.23" width="3.15" height="3.15" fill="#368c5a" stroke="#0f2c1c" stroke-width="1.0"/>
<rect x="395.93" y="494.12" width="3.15" height="3.15" fill="#368c5a" stroke="#0f2c1c" stroke-width="1.0"/>
<rect x="393.53" y="497.32" width="3.15" height="3.15" fill="#368c5a" stroke="#0f2c1c" stroke-width="1.0"/>
<rect x="396.73" y="498.12" width="3.15" height="3.15" fill="#368c5a" stroke="#0f2c1c" stroke-width="1.0"/>
<rect x="394.32" y="500.62" width="3.15" height="3.15" fill="#368c5a" stroke="#0f2c1c" stroke-width="1.0"/>
<rect x="392.62" y="504.73" width="3.15" height="3.15" fill="#368c5a" stroke="#0f2c1c" stroke-width="1.0"/>
<line x1="380" y1="500.6" x2="389" y2="500.6" stroke="#de4a62" stroke-width="1.15"/>
<line x1="391" y1="498.1" x2="400" y2="498.1" stroke="#de4a62" stroke-width="1.15"/>
<line x1="415" y1="444" x2="425.8" y2="444" stroke="#111" stroke-width="1.3"/>
<circle cx="420.4" cy="440.4" r="1.25" fill="#111"/>
<circle cx="417.3" cy="455.4" r="1.6" fill="#4479a8" stroke="#15293a" stroke-width="1.0"/>
<circle cx="413.5" cy="457.3" r="1.6" fill="#4479a8" stroke="#15293a" stroke-width="1.0"/>
<circle cx="414.6" cy="459.6" r="1.6" fill="#4479a8" stroke="#15293a" stroke-width="1.0"/>
<circle cx="416.2" cy="460.4" r="1.6" fill="#4479a8" stroke="#15293a" stroke-width="1.0"/>
<circle cx="416.5" cy="463.8" r="1.6" fill="#4479a8" stroke="#15293a" stroke-width="1.0"/>
<circle cx="415" cy="465.4" r="1.6" fill="#4479a8" stroke="#15293a" stroke-width="1.0"/>
<rect x="423.43" y="448.82" width="3.15" height="3.15" fill="#368c5a" stroke="#0f2c1c" stroke-width="1.0"/>
<rect x="424.93" y="450.73" width="3.15" height="3.15" fill="#368c5a" stroke="#0f2c1c" stroke-width="1.0"/>
<rect x="427.62" y="451.12" width="3.15" height="3.15" fill="#368c5a" stroke="#0f2c1c" stroke-width="1.0"/>
<rect x="422.62" y="453.43" width="3.15" height="3.15" fill="#368c5a" stroke="#0f2c1c" stroke-width="1.0"/>
<rect x="426.12" y="453.82" width="3.15" height="3.15" fill="#368c5a" stroke="#0f2c1c" stroke-width="1.0"/>
<rect x="428.82" y="453.03" width="3.15" height="3.15" fill="#368c5a" stroke="#0f2c1c" stroke-width="1.0"/>
<rect x="423.82" y="457.23" width="3.15" height="3.15" fill="#368c5a" stroke="#0f2c1c" stroke-width="1.0"/>
<rect x="425.32" y="457.62" width="3.15" height="3.15" fill="#368c5a" stroke="#0f2c1c" stroke-width="1.0"/>
<line x1="412.3" y1="460" x2="418.8" y2="460" stroke="#de4a62" stroke-width="1.15"/>
<line x1="422.3" y1="455" x2="431.5" y2="455" stroke="#de4a62" stroke-width="1.15"/>
<line x1="491.75" y1="507.6" x2="491.75" y2="504.7" stroke="#111111" stroke-width="1.4"/>
<line x1="489.25" y1="504.7" x2="494.25" y2="504.7" stroke="#111111" stroke-width="1.4"/>
<rect x="487.5" y="507.6" width="8.5" height="25.8" fill="#1e8ee6" stroke="#111111" stroke-width="1.1"/>
<line x1="505.75" y1="461.7" x2="505.75" y2="452.5" stroke="#111111" stroke-width="1.4"/>
<line x1="503.25" y1="452.5" x2="508.25" y2="452.5" stroke="#111111" stroke-width="1.4"/>
<rect x="501" y="461.7" width="9.5" height="71.7" fill="#1a9a48" stroke="#111111" stroke-width="1.1"/>
<line x1="493" y1="449.4" x2="506" y2="449.4" stroke="#111" stroke-width="1.3"/>
<circle cx="495.8" cy="445.8" r="1.25" fill="#111"/>
<circle cx="499.5" cy="445.8" r="1.25" fill="#111"/>
<circle cx="503.2" cy="445.8" r="1.25" fill="#111"/></svg>
</body></html>
